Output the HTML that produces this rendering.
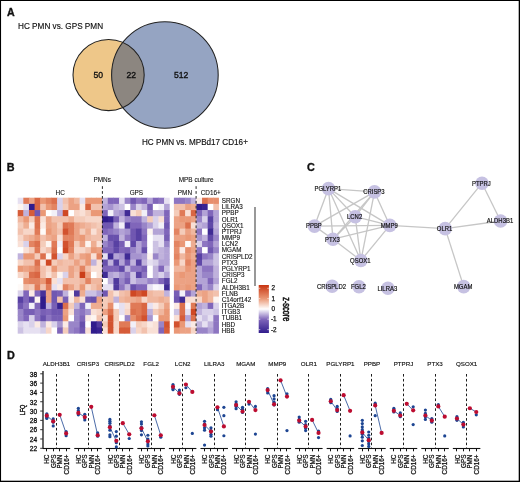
<!DOCTYPE html>
<html><head><meta charset="utf-8"><style>
html,body{margin:0;padding:0;background:#fff;}
body{width:520px;height:482px;overflow:hidden;position:relative;}
.bd{position:absolute;left:0;top:0;filter:none;}
svg{display:block;font-family:'Liberation Sans', sans-serif;will-change:transform;filter:blur(0.25px);}
text{stroke:#111;stroke-width:0.25px;}
</style></head><body>
<svg width="520" height="482" viewBox="0 0 520 482" fill="#111">
<text x="7" y="16.2" font-size="10.6" font-weight="bold" style="stroke-width:0.35px">A</text>
<text x="18" y="29.2" font-size="8.2" style="stroke-width:0.15px">HC PMN vs. GPS PMN</text>
<text x="142" y="144.6" font-size="8.15" style="stroke-width:0.15px">HC PMN vs. MPBd17 CD16+</text>
<defs><clipPath id="oc"><circle cx="108.6" cy="75" r="35.6"/></clipPath></defs>
<circle cx="108.6" cy="75" r="35.6" fill="#eec789"/>
<circle cx="164.9" cy="75" r="53.3" fill="#95a4c2"/>
<circle cx="164.9" cy="75" r="53.3" fill="#8c8680" clip-path="url(#oc)"/>
<circle cx="108.6" cy="75" r="35.6" fill="none" stroke="#222" stroke-width="1.05"/>
<circle cx="164.9" cy="75" r="53.3" fill="none" stroke="#222" stroke-width="1.05"/>
<text x="98.3" y="78.1" font-size="8.6" text-anchor="middle" style="stroke-width:0.35px">50</text>
<text x="131.2" y="78.1" font-size="8.6" text-anchor="middle" style="stroke-width:0.35px">22</text>
<text x="181.1" y="78.1" font-size="8.6" text-anchor="middle" style="stroke-width:0.35px">512</text>
<text x="6.8" y="171.3" font-size="10.8" font-weight="bold" style="stroke-width:0.35px">B</text>
<rect x="17.70" y="197.70" width="6.13" height="6.68" fill="#e6e0f1"/>
<rect x="23.33" y="197.70" width="6.13" height="6.68" fill="#e07a57"/>
<rect x="28.96" y="197.70" width="6.13" height="6.68" fill="#eca284"/>
<rect x="34.59" y="197.70" width="6.13" height="6.68" fill="#d96643"/>
<rect x="40.22" y="197.70" width="6.13" height="6.68" fill="#ea9876"/>
<rect x="45.85" y="197.70" width="6.13" height="6.68" fill="#e38462"/>
<rect x="51.48" y="197.70" width="6.13" height="6.68" fill="#dc704d"/>
<rect x="57.11" y="197.70" width="6.13" height="6.68" fill="#d9d1ea"/>
<rect x="62.74" y="197.70" width="6.13" height="6.68" fill="#f2c1ad"/>
<rect x="68.37" y="197.70" width="6.13" height="6.68" fill="#eca284"/>
<rect x="74.00" y="197.70" width="6.13" height="6.68" fill="#f0b79f"/>
<rect x="79.63" y="197.70" width="6.13" height="6.68" fill="#e6e0f1"/>
<rect x="85.26" y="197.70" width="6.13" height="6.68" fill="#ea9876"/>
<rect x="90.89" y="197.70" width="6.13" height="6.68" fill="#ea9876"/>
<rect x="96.52" y="197.70" width="5.63" height="6.68" fill="#ea9876"/>
<rect x="17.70" y="203.88" width="6.13" height="6.68" fill="#fdf5f1"/>
<rect x="23.33" y="203.88" width="6.13" height="6.68" fill="#e6e0f1"/>
<rect x="28.96" y="203.88" width="6.13" height="6.68" fill="#301c8c"/>
<rect x="34.59" y="203.88" width="6.13" height="6.68" fill="#d96643"/>
<rect x="40.22" y="203.88" width="6.13" height="6.68" fill="#f2c1ad"/>
<rect x="45.85" y="203.88" width="6.13" height="6.68" fill="#ea9876"/>
<rect x="51.48" y="203.88" width="6.13" height="6.68" fill="#e38462"/>
<rect x="57.11" y="203.88" width="6.13" height="6.68" fill="#d9d1ea"/>
<rect x="62.74" y="203.88" width="6.13" height="6.68" fill="#f4ccba"/>
<rect x="68.37" y="203.88" width="6.13" height="6.68" fill="#eca284"/>
<rect x="74.00" y="203.88" width="6.13" height="6.68" fill="#eca284"/>
<rect x="79.63" y="203.88" width="6.13" height="6.68" fill="#fbeae4"/>
<rect x="85.26" y="203.88" width="6.13" height="6.68" fill="#d96643"/>
<rect x="90.89" y="203.88" width="6.13" height="6.68" fill="#f2c1ad"/>
<rect x="96.52" y="203.88" width="5.63" height="6.68" fill="#f2c1ad"/>
<rect x="17.70" y="210.06" width="6.13" height="6.68" fill="#d65c39"/>
<rect x="23.33" y="210.06" width="6.13" height="6.68" fill="#c0b2dc"/>
<rect x="28.96" y="210.06" width="6.13" height="6.68" fill="#d65c39"/>
<rect x="34.59" y="210.06" width="6.13" height="6.68" fill="#7057b1"/>
<rect x="40.22" y="210.06" width="6.13" height="6.68" fill="#ea9876"/>
<rect x="45.85" y="210.06" width="6.13" height="6.68" fill="#ffffff"/>
<rect x="51.48" y="210.06" width="6.13" height="6.68" fill="#f2f0f8"/>
<rect x="57.11" y="210.06" width="6.13" height="6.68" fill="#c0b2dc"/>
<rect x="62.74" y="210.06" width="6.13" height="6.68" fill="#cf4824"/>
<rect x="68.37" y="210.06" width="6.13" height="6.68" fill="#ffffff"/>
<rect x="74.00" y="210.06" width="6.13" height="6.68" fill="#f7d6c8"/>
<rect x="79.63" y="210.06" width="6.13" height="6.68" fill="#f9e0d6"/>
<rect x="85.26" y="210.06" width="6.13" height="6.68" fill="#f4ccba"/>
<rect x="90.89" y="210.06" width="6.13" height="6.68" fill="#ea9876"/>
<rect x="96.52" y="210.06" width="5.63" height="6.68" fill="#ea9876"/>
<rect x="17.70" y="216.24" width="6.13" height="6.68" fill="#f0b79f"/>
<rect x="23.33" y="216.24" width="6.13" height="6.68" fill="#ea9876"/>
<rect x="28.96" y="216.24" width="6.13" height="6.68" fill="#f4ccba"/>
<rect x="34.59" y="216.24" width="6.13" height="6.68" fill="#dc704d"/>
<rect x="40.22" y="216.24" width="6.13" height="6.68" fill="#f9e0d6"/>
<rect x="45.85" y="216.24" width="6.13" height="6.68" fill="#eca284"/>
<rect x="51.48" y="216.24" width="6.13" height="6.68" fill="#f2c1ad"/>
<rect x="57.11" y="216.24" width="6.13" height="6.68" fill="#f2c1ad"/>
<rect x="62.74" y="216.24" width="6.13" height="6.68" fill="#f2c1ad"/>
<rect x="68.37" y="216.24" width="6.13" height="6.68" fill="#eead91"/>
<rect x="74.00" y="216.24" width="6.13" height="6.68" fill="#f4ccba"/>
<rect x="79.63" y="216.24" width="6.13" height="6.68" fill="#f4ccba"/>
<rect x="85.26" y="216.24" width="6.13" height="6.68" fill="#f7d6c8"/>
<rect x="90.89" y="216.24" width="6.13" height="6.68" fill="#f7d6c8"/>
<rect x="96.52" y="216.24" width="5.63" height="6.68" fill="#f7d6c8"/>
<rect x="17.70" y="222.42" width="6.13" height="6.68" fill="#f4ccba"/>
<rect x="23.33" y="222.42" width="6.13" height="6.68" fill="#eead91"/>
<rect x="28.96" y="222.42" width="6.13" height="6.68" fill="#fbeae4"/>
<rect x="34.59" y="222.42" width="6.13" height="6.68" fill="#dc704d"/>
<rect x="40.22" y="222.42" width="6.13" height="6.68" fill="#fbeae4"/>
<rect x="45.85" y="222.42" width="6.13" height="6.68" fill="#eca284"/>
<rect x="51.48" y="222.42" width="6.13" height="6.68" fill="#eead91"/>
<rect x="57.11" y="222.42" width="6.13" height="6.68" fill="#f4ccba"/>
<rect x="62.74" y="222.42" width="6.13" height="6.68" fill="#dc704d"/>
<rect x="68.37" y="222.42" width="6.13" height="6.68" fill="#e07a57"/>
<rect x="74.00" y="222.42" width="6.13" height="6.68" fill="#eca284"/>
<rect x="79.63" y="222.42" width="6.13" height="6.68" fill="#eead91"/>
<rect x="85.26" y="222.42" width="6.13" height="6.68" fill="#f0b79f"/>
<rect x="90.89" y="222.42" width="6.13" height="6.68" fill="#f2c1ad"/>
<rect x="96.52" y="222.42" width="5.63" height="6.68" fill="#f4ccba"/>
<rect x="17.70" y="228.60" width="6.13" height="6.68" fill="#f2c1ad"/>
<rect x="23.33" y="228.60" width="6.13" height="6.68" fill="#f7d6c8"/>
<rect x="28.96" y="228.60" width="6.13" height="6.68" fill="#f7d6c8"/>
<rect x="34.59" y="228.60" width="6.13" height="6.68" fill="#e07a57"/>
<rect x="40.22" y="228.60" width="6.13" height="6.68" fill="#fefaf8"/>
<rect x="45.85" y="228.60" width="6.13" height="6.68" fill="#ea9876"/>
<rect x="51.48" y="228.60" width="6.13" height="6.68" fill="#eead91"/>
<rect x="57.11" y="228.60" width="6.13" height="6.68" fill="#f2c1ad"/>
<rect x="62.74" y="228.60" width="6.13" height="6.68" fill="#d2522f"/>
<rect x="68.37" y="228.60" width="6.13" height="6.68" fill="#e07a57"/>
<rect x="74.00" y="228.60" width="6.13" height="6.68" fill="#eca284"/>
<rect x="79.63" y="228.60" width="6.13" height="6.68" fill="#f4ccba"/>
<rect x="85.26" y="228.60" width="6.13" height="6.68" fill="#eead91"/>
<rect x="90.89" y="228.60" width="6.13" height="6.68" fill="#f9e0d6"/>
<rect x="96.52" y="228.60" width="5.63" height="6.68" fill="#f2c1ad"/>
<rect x="17.70" y="234.78" width="6.13" height="6.68" fill="#f7d6c8"/>
<rect x="23.33" y="234.78" width="6.13" height="6.68" fill="#f0b79f"/>
<rect x="28.96" y="234.78" width="6.13" height="6.68" fill="#eead91"/>
<rect x="34.59" y="234.78" width="6.13" height="6.68" fill="#ea9876"/>
<rect x="40.22" y="234.78" width="6.13" height="6.68" fill="#f2c1ad"/>
<rect x="45.85" y="234.78" width="6.13" height="6.68" fill="#eead91"/>
<rect x="51.48" y="234.78" width="6.13" height="6.68" fill="#eca284"/>
<rect x="57.11" y="234.78" width="6.13" height="6.68" fill="#f9e0d6"/>
<rect x="62.74" y="234.78" width="6.13" height="6.68" fill="#e38462"/>
<rect x="68.37" y="234.78" width="6.13" height="6.68" fill="#e38462"/>
<rect x="74.00" y="234.78" width="6.13" height="6.68" fill="#eca284"/>
<rect x="79.63" y="234.78" width="6.13" height="6.68" fill="#ea9876"/>
<rect x="85.26" y="234.78" width="6.13" height="6.68" fill="#f0b79f"/>
<rect x="90.89" y="234.78" width="6.13" height="6.68" fill="#f2c1ad"/>
<rect x="96.52" y="234.78" width="5.63" height="6.68" fill="#f2c1ad"/>
<rect x="17.70" y="240.96" width="6.13" height="6.68" fill="#f9e0d6"/>
<rect x="23.33" y="240.96" width="6.13" height="6.68" fill="#d9d1ea"/>
<rect x="28.96" y="240.96" width="6.13" height="6.68" fill="#e38462"/>
<rect x="34.59" y="240.96" width="6.13" height="6.68" fill="#dc704d"/>
<rect x="40.22" y="240.96" width="6.13" height="6.68" fill="#f4ccba"/>
<rect x="45.85" y="240.96" width="6.13" height="6.68" fill="#fdf5f1"/>
<rect x="51.48" y="240.96" width="6.13" height="6.68" fill="#e07a57"/>
<rect x="57.11" y="240.96" width="6.13" height="6.68" fill="#f2f0f8"/>
<rect x="62.74" y="240.96" width="6.13" height="6.68" fill="#d2522f"/>
<rect x="68.37" y="240.96" width="6.13" height="6.68" fill="#e07a57"/>
<rect x="74.00" y="240.96" width="6.13" height="6.68" fill="#f4ccba"/>
<rect x="79.63" y="240.96" width="6.13" height="6.68" fill="#eca284"/>
<rect x="85.26" y="240.96" width="6.13" height="6.68" fill="#fdf5f1"/>
<rect x="90.89" y="240.96" width="6.13" height="6.68" fill="#eead91"/>
<rect x="96.52" y="240.96" width="5.63" height="6.68" fill="#f9e0d6"/>
<rect x="17.70" y="247.14" width="6.13" height="6.68" fill="#ffffff"/>
<rect x="23.33" y="247.14" width="6.13" height="6.68" fill="#f9e0d6"/>
<rect x="28.96" y="247.14" width="6.13" height="6.68" fill="#f4ccba"/>
<rect x="34.59" y="247.14" width="6.13" height="6.68" fill="#e07a57"/>
<rect x="40.22" y="247.14" width="6.13" height="6.68" fill="#f7d6c8"/>
<rect x="45.85" y="247.14" width="6.13" height="6.68" fill="#f2c1ad"/>
<rect x="51.48" y="247.14" width="6.13" height="6.68" fill="#dc704d"/>
<rect x="57.11" y="247.14" width="6.13" height="6.68" fill="#ffffff"/>
<rect x="62.74" y="247.14" width="6.13" height="6.68" fill="#cf4824"/>
<rect x="68.37" y="247.14" width="6.13" height="6.68" fill="#e38462"/>
<rect x="74.00" y="247.14" width="6.13" height="6.68" fill="#f7d6c8"/>
<rect x="79.63" y="247.14" width="6.13" height="6.68" fill="#f7d6c8"/>
<rect x="85.26" y="247.14" width="6.13" height="6.68" fill="#f2c1ad"/>
<rect x="90.89" y="247.14" width="6.13" height="6.68" fill="#ea9876"/>
<rect x="96.52" y="247.14" width="5.63" height="6.68" fill="#eca284"/>
<rect x="17.70" y="253.32" width="6.13" height="6.68" fill="#c0b2dc"/>
<rect x="23.33" y="253.32" width="6.13" height="6.68" fill="#ea9876"/>
<rect x="28.96" y="253.32" width="6.13" height="6.68" fill="#ea9876"/>
<rect x="34.59" y="253.32" width="6.13" height="6.68" fill="#f4ccba"/>
<rect x="40.22" y="253.32" width="6.13" height="6.68" fill="#dc704d"/>
<rect x="45.85" y="253.32" width="6.13" height="6.68" fill="#fdf5f1"/>
<rect x="51.48" y="253.32" width="6.13" height="6.68" fill="#d2522f"/>
<rect x="57.11" y="253.32" width="6.13" height="6.68" fill="#d9d1ea"/>
<rect x="62.74" y="253.32" width="6.13" height="6.68" fill="#f7d6c8"/>
<rect x="68.37" y="253.32" width="6.13" height="6.68" fill="#eca284"/>
<rect x="74.00" y="253.32" width="6.13" height="6.68" fill="#f2c1ad"/>
<rect x="79.63" y="253.32" width="6.13" height="6.68" fill="#eca284"/>
<rect x="85.26" y="253.32" width="6.13" height="6.68" fill="#ea9876"/>
<rect x="90.89" y="253.32" width="6.13" height="6.68" fill="#f9e0d6"/>
<rect x="96.52" y="253.32" width="5.63" height="6.68" fill="#e38462"/>
<rect x="17.70" y="259.50" width="6.13" height="6.68" fill="#f7d6c8"/>
<rect x="23.33" y="259.50" width="6.13" height="6.68" fill="#f2c1ad"/>
<rect x="28.96" y="259.50" width="6.13" height="6.68" fill="#f2c1ad"/>
<rect x="34.59" y="259.50" width="6.13" height="6.68" fill="#dc704d"/>
<rect x="40.22" y="259.50" width="6.13" height="6.68" fill="#f9e0d6"/>
<rect x="45.85" y="259.50" width="6.13" height="6.68" fill="#cf4824"/>
<rect x="51.48" y="259.50" width="6.13" height="6.68" fill="#f4ccba"/>
<rect x="57.11" y="259.50" width="6.13" height="6.68" fill="#f0b79f"/>
<rect x="62.74" y="259.50" width="6.13" height="6.68" fill="#f2c1ad"/>
<rect x="68.37" y="259.50" width="6.13" height="6.68" fill="#f2c1ad"/>
<rect x="74.00" y="259.50" width="6.13" height="6.68" fill="#eca284"/>
<rect x="79.63" y="259.50" width="6.13" height="6.68" fill="#f2c1ad"/>
<rect x="85.26" y="259.50" width="6.13" height="6.68" fill="#ea9876"/>
<rect x="90.89" y="259.50" width="6.13" height="6.68" fill="#c0b2dc"/>
<rect x="96.52" y="259.50" width="5.63" height="6.68" fill="#f9e0d6"/>
<rect x="17.70" y="265.68" width="6.13" height="6.68" fill="#ea9876"/>
<rect x="23.33" y="265.68" width="6.13" height="6.68" fill="#eca284"/>
<rect x="28.96" y="265.68" width="6.13" height="6.68" fill="#ea9876"/>
<rect x="34.59" y="265.68" width="6.13" height="6.68" fill="#e38462"/>
<rect x="40.22" y="265.68" width="6.13" height="6.68" fill="#f2c1ad"/>
<rect x="45.85" y="265.68" width="6.13" height="6.68" fill="#f7d6c8"/>
<rect x="51.48" y="265.68" width="6.13" height="6.68" fill="#ea9876"/>
<rect x="57.11" y="265.68" width="6.13" height="6.68" fill="#f2c1ad"/>
<rect x="62.74" y="265.68" width="6.13" height="6.68" fill="#f2c1ad"/>
<rect x="68.37" y="265.68" width="6.13" height="6.68" fill="#eca284"/>
<rect x="74.00" y="265.68" width="6.13" height="6.68" fill="#f0b79f"/>
<rect x="79.63" y="265.68" width="6.13" height="6.68" fill="#e38462"/>
<rect x="85.26" y="265.68" width="6.13" height="6.68" fill="#f2c1ad"/>
<rect x="90.89" y="265.68" width="6.13" height="6.68" fill="#f9e0d6"/>
<rect x="96.52" y="265.68" width="5.63" height="6.68" fill="#f9e0d6"/>
<rect x="17.70" y="271.86" width="6.13" height="6.68" fill="#f7d6c8"/>
<rect x="23.33" y="271.86" width="6.13" height="6.68" fill="#f2c1ad"/>
<rect x="28.96" y="271.86" width="6.13" height="6.68" fill="#dc704d"/>
<rect x="34.59" y="271.86" width="6.13" height="6.68" fill="#d96643"/>
<rect x="40.22" y="271.86" width="6.13" height="6.68" fill="#f2c1ad"/>
<rect x="45.85" y="271.86" width="6.13" height="6.68" fill="#f9e0d6"/>
<rect x="51.48" y="271.86" width="6.13" height="6.68" fill="#f2c1ad"/>
<rect x="57.11" y="271.86" width="6.13" height="6.68" fill="#fdf5f1"/>
<rect x="62.74" y="271.86" width="6.13" height="6.68" fill="#d9d1ea"/>
<rect x="68.37" y="271.86" width="6.13" height="6.68" fill="#eca284"/>
<rect x="74.00" y="271.86" width="6.13" height="6.68" fill="#f2c1ad"/>
<rect x="79.63" y="271.86" width="6.13" height="6.68" fill="#cb3e1a"/>
<rect x="85.26" y="271.86" width="6.13" height="6.68" fill="#eca284"/>
<rect x="90.89" y="271.86" width="6.13" height="6.68" fill="#ffffff"/>
<rect x="96.52" y="271.86" width="5.63" height="6.68" fill="#f9e0d6"/>
<rect x="17.70" y="278.04" width="6.13" height="6.68" fill="#ffffff"/>
<rect x="23.33" y="278.04" width="6.13" height="6.68" fill="#e78e6c"/>
<rect x="28.96" y="278.04" width="6.13" height="6.68" fill="#e38462"/>
<rect x="34.59" y="278.04" width="6.13" height="6.68" fill="#e38462"/>
<rect x="40.22" y="278.04" width="6.13" height="6.68" fill="#ea9876"/>
<rect x="45.85" y="278.04" width="6.13" height="6.68" fill="#d65c39"/>
<rect x="51.48" y="278.04" width="6.13" height="6.68" fill="#f9e0d6"/>
<rect x="57.11" y="278.04" width="6.13" height="6.68" fill="#e6e0f1"/>
<rect x="62.74" y="278.04" width="6.13" height="6.68" fill="#f2c1ad"/>
<rect x="68.37" y="278.04" width="6.13" height="6.68" fill="#f2c1ad"/>
<rect x="74.00" y="278.04" width="6.13" height="6.68" fill="#f2c1ad"/>
<rect x="79.63" y="278.04" width="6.13" height="6.68" fill="#f0b79f"/>
<rect x="85.26" y="278.04" width="6.13" height="6.68" fill="#e38462"/>
<rect x="90.89" y="278.04" width="6.13" height="6.68" fill="#f0b79f"/>
<rect x="96.52" y="278.04" width="5.63" height="6.68" fill="#f0b79f"/>
<rect x="17.70" y="284.22" width="6.13" height="6.68" fill="#fefaf8"/>
<rect x="23.33" y="284.22" width="6.13" height="6.68" fill="#f2c1ad"/>
<rect x="28.96" y="284.22" width="6.13" height="6.68" fill="#f4ccba"/>
<rect x="34.59" y="284.22" width="6.13" height="6.68" fill="#e07a57"/>
<rect x="40.22" y="284.22" width="6.13" height="6.68" fill="#f2c1ad"/>
<rect x="45.85" y="284.22" width="6.13" height="6.68" fill="#e07a57"/>
<rect x="51.48" y="284.22" width="6.13" height="6.68" fill="#e6e0f1"/>
<rect x="57.11" y="284.22" width="6.13" height="6.68" fill="#fbeae4"/>
<rect x="62.74" y="284.22" width="6.13" height="6.68" fill="#e38462"/>
<rect x="68.37" y="284.22" width="6.13" height="6.68" fill="#eca284"/>
<rect x="74.00" y="284.22" width="6.13" height="6.68" fill="#f2c1ad"/>
<rect x="79.63" y="284.22" width="6.13" height="6.68" fill="#ea9876"/>
<rect x="85.26" y="284.22" width="6.13" height="6.68" fill="#f7d6c8"/>
<rect x="90.89" y="284.22" width="6.13" height="6.68" fill="#f2c1ad"/>
<rect x="96.52" y="284.22" width="5.63" height="6.68" fill="#eead91"/>
<rect x="17.70" y="290.40" width="6.13" height="6.68" fill="#d9d1ea"/>
<rect x="23.33" y="290.40" width="6.13" height="6.68" fill="#8066ba"/>
<rect x="28.96" y="290.40" width="6.13" height="6.68" fill="#fbeae4"/>
<rect x="34.59" y="290.40" width="6.13" height="6.68" fill="#8066ba"/>
<rect x="40.22" y="290.40" width="6.13" height="6.68" fill="#48329a"/>
<rect x="45.85" y="290.40" width="6.13" height="6.68" fill="#eca284"/>
<rect x="51.48" y="290.40" width="6.13" height="6.68" fill="#7057b1"/>
<rect x="57.11" y="290.40" width="6.13" height="6.68" fill="#785fb5"/>
<rect x="62.74" y="290.40" width="6.13" height="6.68" fill="#c0b2dc"/>
<rect x="68.37" y="290.40" width="6.13" height="6.68" fill="#fdf5f1"/>
<rect x="74.00" y="290.40" width="6.13" height="6.68" fill="#503a9e"/>
<rect x="79.63" y="290.40" width="6.13" height="6.68" fill="#eead91"/>
<rect x="85.26" y="290.40" width="6.13" height="6.68" fill="#ccc2e3"/>
<rect x="90.89" y="290.40" width="6.13" height="6.68" fill="#ccc2e3"/>
<rect x="96.52" y="290.40" width="5.63" height="6.68" fill="#b3a3d6"/>
<rect x="17.70" y="296.58" width="6.13" height="6.68" fill="#5841a3"/>
<rect x="23.33" y="296.58" width="6.13" height="6.68" fill="#8066ba"/>
<rect x="28.96" y="296.58" width="6.13" height="6.68" fill="#5841a3"/>
<rect x="34.59" y="296.58" width="6.13" height="6.68" fill="#fdf5f1"/>
<rect x="40.22" y="296.58" width="6.13" height="6.68" fill="#301c8c"/>
<rect x="45.85" y="296.58" width="6.13" height="6.68" fill="#eca284"/>
<rect x="51.48" y="296.58" width="6.13" height="6.68" fill="#7057b1"/>
<rect x="57.11" y="296.58" width="6.13" height="6.68" fill="#f2c1ad"/>
<rect x="62.74" y="296.58" width="6.13" height="6.68" fill="#785fb5"/>
<rect x="68.37" y="296.58" width="6.13" height="6.68" fill="#fbeae4"/>
<rect x="74.00" y="296.58" width="6.13" height="6.68" fill="#f0b79f"/>
<rect x="79.63" y="296.58" width="6.13" height="6.68" fill="#f9e0d6"/>
<rect x="85.26" y="296.58" width="6.13" height="6.68" fill="#7057b1"/>
<rect x="90.89" y="296.58" width="6.13" height="6.68" fill="#6850ac"/>
<rect x="96.52" y="296.58" width="5.63" height="6.68" fill="#eca284"/>
<rect x="17.70" y="302.76" width="6.13" height="6.68" fill="#7057b1"/>
<rect x="23.33" y="302.76" width="6.13" height="6.68" fill="#8d75c1"/>
<rect x="28.96" y="302.76" width="6.13" height="6.68" fill="#f2f0f8"/>
<rect x="34.59" y="302.76" width="6.13" height="6.68" fill="#8066ba"/>
<rect x="40.22" y="302.76" width="6.13" height="6.68" fill="#301c8c"/>
<rect x="45.85" y="302.76" width="6.13" height="6.68" fill="#c0b2dc"/>
<rect x="51.48" y="302.76" width="6.13" height="6.68" fill="#785fb5"/>
<rect x="57.11" y="302.76" width="6.13" height="6.68" fill="#382391"/>
<rect x="62.74" y="302.76" width="6.13" height="6.68" fill="#dc704d"/>
<rect x="68.37" y="302.76" width="6.13" height="6.68" fill="#f4ccba"/>
<rect x="74.00" y="302.76" width="6.13" height="6.68" fill="#c0b2dc"/>
<rect x="79.63" y="302.76" width="6.13" height="6.68" fill="#8066ba"/>
<rect x="85.26" y="302.76" width="6.13" height="6.68" fill="#f2f0f8"/>
<rect x="90.89" y="302.76" width="6.13" height="6.68" fill="#eead91"/>
<rect x="96.52" y="302.76" width="5.63" height="6.68" fill="#eead91"/>
<rect x="17.70" y="308.94" width="6.13" height="6.68" fill="#9985c8"/>
<rect x="23.33" y="308.94" width="6.13" height="6.68" fill="#785fb5"/>
<rect x="28.96" y="308.94" width="6.13" height="6.68" fill="#785fb5"/>
<rect x="34.59" y="308.94" width="6.13" height="6.68" fill="#8d75c1"/>
<rect x="40.22" y="308.94" width="6.13" height="6.68" fill="#785fb5"/>
<rect x="45.85" y="308.94" width="6.13" height="6.68" fill="#8066ba"/>
<rect x="51.48" y="308.94" width="6.13" height="6.68" fill="#7057b1"/>
<rect x="57.11" y="308.94" width="6.13" height="6.68" fill="#7057b1"/>
<rect x="62.74" y="308.94" width="6.13" height="6.68" fill="#eca284"/>
<rect x="68.37" y="308.94" width="6.13" height="6.68" fill="#f9e0d6"/>
<rect x="74.00" y="308.94" width="6.13" height="6.68" fill="#9985c8"/>
<rect x="79.63" y="308.94" width="6.13" height="6.68" fill="#8d75c1"/>
<rect x="85.26" y="308.94" width="6.13" height="6.68" fill="#a694cf"/>
<rect x="90.89" y="308.94" width="6.13" height="6.68" fill="#f9e0d6"/>
<rect x="96.52" y="308.94" width="5.63" height="6.68" fill="#f7d6c8"/>
<rect x="17.70" y="315.12" width="6.13" height="6.68" fill="#9985c8"/>
<rect x="23.33" y="315.12" width="6.13" height="6.68" fill="#8066ba"/>
<rect x="28.96" y="315.12" width="6.13" height="6.68" fill="#d9d1ea"/>
<rect x="34.59" y="315.12" width="6.13" height="6.68" fill="#8d75c1"/>
<rect x="40.22" y="315.12" width="6.13" height="6.68" fill="#6850ac"/>
<rect x="45.85" y="315.12" width="6.13" height="6.68" fill="#8d75c1"/>
<rect x="51.48" y="315.12" width="6.13" height="6.68" fill="#785fb5"/>
<rect x="57.11" y="315.12" width="6.13" height="6.68" fill="#785fb5"/>
<rect x="62.74" y="315.12" width="6.13" height="6.68" fill="#ea9876"/>
<rect x="68.37" y="315.12" width="6.13" height="6.68" fill="#ffffff"/>
<rect x="74.00" y="315.12" width="6.13" height="6.68" fill="#9985c8"/>
<rect x="79.63" y="315.12" width="6.13" height="6.68" fill="#8066ba"/>
<rect x="85.26" y="315.12" width="6.13" height="6.68" fill="#fbeae4"/>
<rect x="90.89" y="315.12" width="6.13" height="6.68" fill="#fdf5f1"/>
<rect x="96.52" y="315.12" width="5.63" height="6.68" fill="#f2c1ad"/>
<rect x="17.70" y="321.30" width="6.13" height="6.68" fill="#d9d1ea"/>
<rect x="23.33" y="321.30" width="6.13" height="6.68" fill="#e6e0f1"/>
<rect x="28.96" y="321.30" width="6.13" height="6.68" fill="#d9d1ea"/>
<rect x="34.59" y="321.30" width="6.13" height="6.68" fill="#fbeae4"/>
<rect x="40.22" y="321.30" width="6.13" height="6.68" fill="#c0b2dc"/>
<rect x="45.85" y="321.30" width="6.13" height="6.68" fill="#fbeae4"/>
<rect x="51.48" y="321.30" width="6.13" height="6.68" fill="#d9d1ea"/>
<rect x="57.11" y="321.30" width="6.13" height="6.68" fill="#a694cf"/>
<rect x="62.74" y="321.30" width="6.13" height="6.68" fill="#fbeae4"/>
<rect x="68.37" y="321.30" width="6.13" height="6.68" fill="#9985c8"/>
<rect x="74.00" y="321.30" width="6.13" height="6.68" fill="#9985c8"/>
<rect x="79.63" y="321.30" width="6.13" height="6.68" fill="#6850ac"/>
<rect x="85.26" y="321.30" width="6.13" height="6.68" fill="#ffffff"/>
<rect x="90.89" y="321.30" width="6.13" height="6.68" fill="#301c8c"/>
<rect x="96.52" y="321.30" width="5.63" height="6.68" fill="#503a9e"/>
<rect x="17.70" y="327.48" width="6.13" height="6.18" fill="#ccc2e3"/>
<rect x="23.33" y="327.48" width="6.13" height="6.18" fill="#e6e0f1"/>
<rect x="28.96" y="327.48" width="6.13" height="6.18" fill="#e6e0f1"/>
<rect x="34.59" y="327.48" width="6.13" height="6.18" fill="#e6e0f1"/>
<rect x="40.22" y="327.48" width="6.13" height="6.18" fill="#d9d1ea"/>
<rect x="45.85" y="327.48" width="6.13" height="6.18" fill="#f7d6c8"/>
<rect x="51.48" y="327.48" width="6.13" height="6.18" fill="#ffffff"/>
<rect x="57.11" y="327.48" width="6.13" height="6.18" fill="#8066ba"/>
<rect x="62.74" y="327.48" width="6.13" height="6.18" fill="#f4ccba"/>
<rect x="68.37" y="327.48" width="6.13" height="6.18" fill="#9985c8"/>
<rect x="74.00" y="327.48" width="6.13" height="6.18" fill="#8d75c1"/>
<rect x="79.63" y="327.48" width="6.13" height="6.18" fill="#7057b1"/>
<rect x="85.26" y="327.48" width="6.13" height="6.18" fill="#f9e0d6"/>
<rect x="90.89" y="327.48" width="6.13" height="6.18" fill="#301c8c"/>
<rect x="96.52" y="327.48" width="5.63" height="6.18" fill="#382391"/>
<rect x="102.15" y="197.70" width="6.13" height="6.68" fill="#c0b2dc"/>
<rect x="107.78" y="197.70" width="6.13" height="6.68" fill="#8066ba"/>
<rect x="113.41" y="197.70" width="6.13" height="6.68" fill="#8066ba"/>
<rect x="119.04" y="197.70" width="6.13" height="6.68" fill="#e6e0f1"/>
<rect x="124.67" y="197.70" width="6.13" height="6.68" fill="#9985c8"/>
<rect x="130.30" y="197.70" width="6.13" height="6.68" fill="#7057b1"/>
<rect x="135.93" y="197.70" width="6.13" height="6.68" fill="#8d75c1"/>
<rect x="141.56" y="197.70" width="6.13" height="6.68" fill="#8066ba"/>
<rect x="147.19" y="197.70" width="6.13" height="6.68" fill="#b3a3d6"/>
<rect x="152.82" y="197.70" width="6.13" height="6.68" fill="#8066ba"/>
<rect x="158.45" y="197.70" width="6.13" height="6.68" fill="#8d75c1"/>
<rect x="164.08" y="197.70" width="5.63" height="6.68" fill="#e6e0f1"/>
<rect x="102.15" y="203.88" width="6.13" height="6.68" fill="#b3a3d6"/>
<rect x="107.78" y="203.88" width="6.13" height="6.68" fill="#a694cf"/>
<rect x="113.41" y="203.88" width="6.13" height="6.68" fill="#c0b2dc"/>
<rect x="119.04" y="203.88" width="6.13" height="6.68" fill="#ccc2e3"/>
<rect x="124.67" y="203.88" width="6.13" height="6.68" fill="#ffffff"/>
<rect x="130.30" y="203.88" width="6.13" height="6.68" fill="#9985c8"/>
<rect x="135.93" y="203.88" width="6.13" height="6.68" fill="#d9d1ea"/>
<rect x="141.56" y="203.88" width="6.13" height="6.68" fill="#c0b2dc"/>
<rect x="147.19" y="203.88" width="6.13" height="6.68" fill="#785fb5"/>
<rect x="152.82" y="203.88" width="6.13" height="6.68" fill="#ffffff"/>
<rect x="158.45" y="203.88" width="6.13" height="6.68" fill="#f2f0f8"/>
<rect x="164.08" y="203.88" width="5.63" height="6.68" fill="#b3a3d6"/>
<rect x="102.15" y="210.06" width="6.13" height="6.68" fill="#8066ba"/>
<rect x="107.78" y="210.06" width="6.13" height="6.68" fill="#f2f0f8"/>
<rect x="113.41" y="210.06" width="6.13" height="6.68" fill="#b3a3d6"/>
<rect x="119.04" y="210.06" width="6.13" height="6.68" fill="#a694cf"/>
<rect x="124.67" y="210.06" width="6.13" height="6.68" fill="#402b95"/>
<rect x="130.30" y="210.06" width="6.13" height="6.68" fill="#f9e0d6"/>
<rect x="135.93" y="210.06" width="6.13" height="6.68" fill="#f4ccba"/>
<rect x="141.56" y="210.06" width="6.13" height="6.68" fill="#f2f0f8"/>
<rect x="147.19" y="210.06" width="6.13" height="6.68" fill="#8d75c1"/>
<rect x="152.82" y="210.06" width="6.13" height="6.68" fill="#c0b2dc"/>
<rect x="158.45" y="210.06" width="6.13" height="6.68" fill="#c0b2dc"/>
<rect x="164.08" y="210.06" width="5.63" height="6.68" fill="#8066ba"/>
<rect x="102.15" y="216.24" width="6.13" height="6.68" fill="#301c8c"/>
<rect x="107.78" y="216.24" width="6.13" height="6.68" fill="#382391"/>
<rect x="113.41" y="216.24" width="6.13" height="6.68" fill="#785fb5"/>
<rect x="119.04" y="216.24" width="6.13" height="6.68" fill="#c0b2dc"/>
<rect x="124.67" y="216.24" width="6.13" height="6.68" fill="#9985c8"/>
<rect x="130.30" y="216.24" width="6.13" height="6.68" fill="#8d75c1"/>
<rect x="135.93" y="216.24" width="6.13" height="6.68" fill="#8d75c1"/>
<rect x="141.56" y="216.24" width="6.13" height="6.68" fill="#c0b2dc"/>
<rect x="147.19" y="216.24" width="6.13" height="6.68" fill="#f4ccba"/>
<rect x="152.82" y="216.24" width="6.13" height="6.68" fill="#d9d1ea"/>
<rect x="158.45" y="216.24" width="6.13" height="6.68" fill="#f9e0d6"/>
<rect x="164.08" y="216.24" width="5.63" height="6.68" fill="#8066ba"/>
<rect x="102.15" y="222.42" width="6.13" height="6.68" fill="#7057b1"/>
<rect x="107.78" y="222.42" width="6.13" height="6.68" fill="#7057b1"/>
<rect x="113.41" y="222.42" width="6.13" height="6.68" fill="#c0b2dc"/>
<rect x="119.04" y="222.42" width="6.13" height="6.68" fill="#f2f0f8"/>
<rect x="124.67" y="222.42" width="6.13" height="6.68" fill="#503a9e"/>
<rect x="130.30" y="222.42" width="6.13" height="6.68" fill="#8066ba"/>
<rect x="135.93" y="222.42" width="6.13" height="6.68" fill="#8066ba"/>
<rect x="141.56" y="222.42" width="6.13" height="6.68" fill="#9985c8"/>
<rect x="147.19" y="222.42" width="6.13" height="6.68" fill="#b3a3d6"/>
<rect x="152.82" y="222.42" width="6.13" height="6.68" fill="#d9d1ea"/>
<rect x="158.45" y="222.42" width="6.13" height="6.68" fill="#f2f0f8"/>
<rect x="164.08" y="222.42" width="5.63" height="6.68" fill="#7057b1"/>
<rect x="102.15" y="228.60" width="6.13" height="6.68" fill="#8066ba"/>
<rect x="107.78" y="228.60" width="6.13" height="6.68" fill="#8d75c1"/>
<rect x="113.41" y="228.60" width="6.13" height="6.68" fill="#9985c8"/>
<rect x="119.04" y="228.60" width="6.13" height="6.68" fill="#b3a3d6"/>
<rect x="124.67" y="228.60" width="6.13" height="6.68" fill="#a694cf"/>
<rect x="130.30" y="228.60" width="6.13" height="6.68" fill="#7057b1"/>
<rect x="135.93" y="228.60" width="6.13" height="6.68" fill="#5841a3"/>
<rect x="141.56" y="228.60" width="6.13" height="6.68" fill="#8d75c1"/>
<rect x="147.19" y="228.60" width="6.13" height="6.68" fill="#fdf5f1"/>
<rect x="152.82" y="228.60" width="6.13" height="6.68" fill="#b3a3d6"/>
<rect x="158.45" y="228.60" width="6.13" height="6.68" fill="#b3a3d6"/>
<rect x="164.08" y="228.60" width="5.63" height="6.68" fill="#8066ba"/>
<rect x="102.15" y="234.78" width="6.13" height="6.68" fill="#c0b2dc"/>
<rect x="107.78" y="234.78" width="6.13" height="6.68" fill="#6850ac"/>
<rect x="113.41" y="234.78" width="6.13" height="6.68" fill="#6850ac"/>
<rect x="119.04" y="234.78" width="6.13" height="6.68" fill="#c0b2dc"/>
<rect x="124.67" y="234.78" width="6.13" height="6.68" fill="#8d75c1"/>
<rect x="130.30" y="234.78" width="6.13" height="6.68" fill="#7057b1"/>
<rect x="135.93" y="234.78" width="6.13" height="6.68" fill="#5841a3"/>
<rect x="141.56" y="234.78" width="6.13" height="6.68" fill="#8066ba"/>
<rect x="147.19" y="234.78" width="6.13" height="6.68" fill="#ffffff"/>
<rect x="152.82" y="234.78" width="6.13" height="6.68" fill="#e6e0f1"/>
<rect x="158.45" y="234.78" width="6.13" height="6.68" fill="#e6e0f1"/>
<rect x="164.08" y="234.78" width="5.63" height="6.68" fill="#785fb5"/>
<rect x="102.15" y="240.96" width="6.13" height="6.68" fill="#9985c8"/>
<rect x="107.78" y="240.96" width="6.13" height="6.68" fill="#8066ba"/>
<rect x="113.41" y="240.96" width="6.13" height="6.68" fill="#5841a3"/>
<rect x="119.04" y="240.96" width="6.13" height="6.68" fill="#785fb5"/>
<rect x="124.67" y="240.96" width="6.13" height="6.68" fill="#f2f0f8"/>
<rect x="130.30" y="240.96" width="6.13" height="6.68" fill="#6048a8"/>
<rect x="135.93" y="240.96" width="6.13" height="6.68" fill="#b3a3d6"/>
<rect x="141.56" y="240.96" width="6.13" height="6.68" fill="#8d75c1"/>
<rect x="147.19" y="240.96" width="6.13" height="6.68" fill="#ffffff"/>
<rect x="152.82" y="240.96" width="6.13" height="6.68" fill="#ccc2e3"/>
<rect x="158.45" y="240.96" width="6.13" height="6.68" fill="#e6e0f1"/>
<rect x="164.08" y="240.96" width="5.63" height="6.68" fill="#9985c8"/>
<rect x="102.15" y="247.14" width="6.13" height="6.68" fill="#8066ba"/>
<rect x="107.78" y="247.14" width="6.13" height="6.68" fill="#8066ba"/>
<rect x="113.41" y="247.14" width="6.13" height="6.68" fill="#6048a8"/>
<rect x="119.04" y="247.14" width="6.13" height="6.68" fill="#8066ba"/>
<rect x="124.67" y="247.14" width="6.13" height="6.68" fill="#785fb5"/>
<rect x="130.30" y="247.14" width="6.13" height="6.68" fill="#9985c8"/>
<rect x="135.93" y="247.14" width="6.13" height="6.68" fill="#b3a3d6"/>
<rect x="141.56" y="247.14" width="6.13" height="6.68" fill="#6850ac"/>
<rect x="147.19" y="247.14" width="6.13" height="6.68" fill="#ffffff"/>
<rect x="152.82" y="247.14" width="6.13" height="6.68" fill="#ccc2e3"/>
<rect x="158.45" y="247.14" width="6.13" height="6.68" fill="#c0b2dc"/>
<rect x="164.08" y="247.14" width="5.63" height="6.68" fill="#b3a3d6"/>
<rect x="102.15" y="253.32" width="6.13" height="6.68" fill="#e6e0f1"/>
<rect x="107.78" y="253.32" width="6.13" height="6.68" fill="#402b95"/>
<rect x="113.41" y="253.32" width="6.13" height="6.68" fill="#b3a3d6"/>
<rect x="119.04" y="253.32" width="6.13" height="6.68" fill="#a694cf"/>
<rect x="124.67" y="253.32" width="6.13" height="6.68" fill="#402b95"/>
<rect x="130.30" y="253.32" width="6.13" height="6.68" fill="#a694cf"/>
<rect x="135.93" y="253.32" width="6.13" height="6.68" fill="#a694cf"/>
<rect x="141.56" y="253.32" width="6.13" height="6.68" fill="#b3a3d6"/>
<rect x="147.19" y="253.32" width="6.13" height="6.68" fill="#fdf5f1"/>
<rect x="152.82" y="253.32" width="6.13" height="6.68" fill="#9985c8"/>
<rect x="158.45" y="253.32" width="6.13" height="6.68" fill="#c0b2dc"/>
<rect x="164.08" y="253.32" width="5.63" height="6.68" fill="#b3a3d6"/>
<rect x="102.15" y="259.50" width="6.13" height="6.68" fill="#6850ac"/>
<rect x="107.78" y="259.50" width="6.13" height="6.68" fill="#c0b2dc"/>
<rect x="113.41" y="259.50" width="6.13" height="6.68" fill="#5841a3"/>
<rect x="119.04" y="259.50" width="6.13" height="6.68" fill="#b3a3d6"/>
<rect x="124.67" y="259.50" width="6.13" height="6.68" fill="#7057b1"/>
<rect x="130.30" y="259.50" width="6.13" height="6.68" fill="#c0b2dc"/>
<rect x="135.93" y="259.50" width="6.13" height="6.68" fill="#5841a3"/>
<rect x="141.56" y="259.50" width="6.13" height="6.68" fill="#c0b2dc"/>
<rect x="147.19" y="259.50" width="6.13" height="6.68" fill="#e6e0f1"/>
<rect x="152.82" y="259.50" width="6.13" height="6.68" fill="#d9d1ea"/>
<rect x="158.45" y="259.50" width="6.13" height="6.68" fill="#b3a3d6"/>
<rect x="164.08" y="259.50" width="5.63" height="6.68" fill="#b3a3d6"/>
<rect x="102.15" y="265.68" width="6.13" height="6.68" fill="#8066ba"/>
<rect x="107.78" y="265.68" width="6.13" height="6.68" fill="#8066ba"/>
<rect x="113.41" y="265.68" width="6.13" height="6.68" fill="#8066ba"/>
<rect x="119.04" y="265.68" width="6.13" height="6.68" fill="#6048a8"/>
<rect x="124.67" y="265.68" width="6.13" height="6.68" fill="#c0b2dc"/>
<rect x="130.30" y="265.68" width="6.13" height="6.68" fill="#8d75c1"/>
<rect x="135.93" y="265.68" width="6.13" height="6.68" fill="#8d75c1"/>
<rect x="141.56" y="265.68" width="6.13" height="6.68" fill="#785fb5"/>
<rect x="147.19" y="265.68" width="6.13" height="6.68" fill="#ffffff"/>
<rect x="152.82" y="265.68" width="6.13" height="6.68" fill="#c0b2dc"/>
<rect x="158.45" y="265.68" width="6.13" height="6.68" fill="#8066ba"/>
<rect x="164.08" y="265.68" width="5.63" height="6.68" fill="#ccc2e3"/>
<rect x="102.15" y="271.86" width="6.13" height="6.68" fill="#402b95"/>
<rect x="107.78" y="271.86" width="6.13" height="6.68" fill="#b3a3d6"/>
<rect x="113.41" y="271.86" width="6.13" height="6.68" fill="#c0b2dc"/>
<rect x="119.04" y="271.86" width="6.13" height="6.68" fill="#a694cf"/>
<rect x="124.67" y="271.86" width="6.13" height="6.68" fill="#8d75c1"/>
<rect x="130.30" y="271.86" width="6.13" height="6.68" fill="#ccc2e3"/>
<rect x="135.93" y="271.86" width="6.13" height="6.68" fill="#5841a3"/>
<rect x="141.56" y="271.86" width="6.13" height="6.68" fill="#8d75c1"/>
<rect x="147.19" y="271.86" width="6.13" height="6.68" fill="#ffffff"/>
<rect x="152.82" y="271.86" width="6.13" height="6.68" fill="#c0b2dc"/>
<rect x="158.45" y="271.86" width="6.13" height="6.68" fill="#d9d1ea"/>
<rect x="164.08" y="271.86" width="5.63" height="6.68" fill="#b3a3d6"/>
<rect x="102.15" y="278.04" width="6.13" height="6.68" fill="#ffffff"/>
<rect x="107.78" y="278.04" width="6.13" height="6.68" fill="#c0b2dc"/>
<rect x="113.41" y="278.04" width="6.13" height="6.68" fill="#503a9e"/>
<rect x="119.04" y="278.04" width="6.13" height="6.68" fill="#9985c8"/>
<rect x="124.67" y="278.04" width="6.13" height="6.68" fill="#785fb5"/>
<rect x="130.30" y="278.04" width="6.13" height="6.68" fill="#ccc2e3"/>
<rect x="135.93" y="278.04" width="6.13" height="6.68" fill="#b3a3d6"/>
<rect x="141.56" y="278.04" width="6.13" height="6.68" fill="#b3a3d6"/>
<rect x="147.19" y="278.04" width="6.13" height="6.68" fill="#9985c8"/>
<rect x="152.82" y="278.04" width="6.13" height="6.68" fill="#a694cf"/>
<rect x="158.45" y="278.04" width="6.13" height="6.68" fill="#8066ba"/>
<rect x="164.08" y="278.04" width="5.63" height="6.68" fill="#5841a3"/>
<rect x="102.15" y="284.22" width="6.13" height="6.68" fill="#e6e0f1"/>
<rect x="107.78" y="284.22" width="6.13" height="6.68" fill="#e6e0f1"/>
<rect x="113.41" y="284.22" width="6.13" height="6.68" fill="#503a9e"/>
<rect x="119.04" y="284.22" width="6.13" height="6.68" fill="#8d75c1"/>
<rect x="124.67" y="284.22" width="6.13" height="6.68" fill="#c0b2dc"/>
<rect x="130.30" y="284.22" width="6.13" height="6.68" fill="#6850ac"/>
<rect x="135.93" y="284.22" width="6.13" height="6.68" fill="#8066ba"/>
<rect x="141.56" y="284.22" width="6.13" height="6.68" fill="#8066ba"/>
<rect x="147.19" y="284.22" width="6.13" height="6.68" fill="#e6e0f1"/>
<rect x="152.82" y="284.22" width="6.13" height="6.68" fill="#f9f7fc"/>
<rect x="158.45" y="284.22" width="6.13" height="6.68" fill="#f2f0f8"/>
<rect x="164.08" y="284.22" width="5.63" height="6.68" fill="#402b95"/>
<rect x="102.15" y="290.40" width="6.13" height="6.68" fill="#7057b1"/>
<rect x="107.78" y="290.40" width="6.13" height="6.68" fill="#f2c1ad"/>
<rect x="113.41" y="290.40" width="6.13" height="6.68" fill="#f9e0d6"/>
<rect x="119.04" y="290.40" width="6.13" height="6.68" fill="#f2c1ad"/>
<rect x="124.67" y="290.40" width="6.13" height="6.68" fill="#f0b79f"/>
<rect x="130.30" y="290.40" width="6.13" height="6.68" fill="#cf4824"/>
<rect x="135.93" y="290.40" width="6.13" height="6.68" fill="#d65c39"/>
<rect x="141.56" y="290.40" width="6.13" height="6.68" fill="#cf4824"/>
<rect x="147.19" y="290.40" width="6.13" height="6.68" fill="#f0b79f"/>
<rect x="152.82" y="290.40" width="6.13" height="6.68" fill="#f2c1ad"/>
<rect x="158.45" y="290.40" width="6.13" height="6.68" fill="#f2c1ad"/>
<rect x="164.08" y="290.40" width="5.63" height="6.68" fill="#c0b2dc"/>
<rect x="102.15" y="296.58" width="6.13" height="6.68" fill="#f4ccba"/>
<rect x="107.78" y="296.58" width="6.13" height="6.68" fill="#f2c1ad"/>
<rect x="113.41" y="296.58" width="6.13" height="6.68" fill="#c0b2dc"/>
<rect x="119.04" y="296.58" width="6.13" height="6.68" fill="#f0b79f"/>
<rect x="124.67" y="296.58" width="6.13" height="6.68" fill="#eead91"/>
<rect x="130.30" y="296.58" width="6.13" height="6.68" fill="#eead91"/>
<rect x="135.93" y="296.58" width="6.13" height="6.68" fill="#eca284"/>
<rect x="141.56" y="296.58" width="6.13" height="6.68" fill="#f7d6c8"/>
<rect x="147.19" y="296.58" width="6.13" height="6.68" fill="#f0b79f"/>
<rect x="152.82" y="296.58" width="6.13" height="6.68" fill="#f0b79f"/>
<rect x="158.45" y="296.58" width="6.13" height="6.68" fill="#eead91"/>
<rect x="164.08" y="296.58" width="5.63" height="6.68" fill="#f0b79f"/>
<rect x="102.15" y="302.76" width="6.13" height="6.68" fill="#f4ccba"/>
<rect x="107.78" y="302.76" width="6.13" height="6.68" fill="#e78e6c"/>
<rect x="113.41" y="302.76" width="6.13" height="6.68" fill="#f9f7fc"/>
<rect x="119.04" y="302.76" width="6.13" height="6.68" fill="#e6e0f1"/>
<rect x="124.67" y="302.76" width="6.13" height="6.68" fill="#f9e0d6"/>
<rect x="130.30" y="302.76" width="6.13" height="6.68" fill="#e07a57"/>
<rect x="135.93" y="302.76" width="6.13" height="6.68" fill="#e07a57"/>
<rect x="141.56" y="302.76" width="6.13" height="6.68" fill="#d96643"/>
<rect x="147.19" y="302.76" width="6.13" height="6.68" fill="#e6e0f1"/>
<rect x="152.82" y="302.76" width="6.13" height="6.68" fill="#fbeae4"/>
<rect x="158.45" y="302.76" width="6.13" height="6.68" fill="#f4ccba"/>
<rect x="164.08" y="302.76" width="5.63" height="6.68" fill="#eca284"/>
<rect x="102.15" y="308.94" width="6.13" height="6.68" fill="#eca284"/>
<rect x="107.78" y="308.94" width="6.13" height="6.68" fill="#dc704d"/>
<rect x="113.41" y="308.94" width="6.13" height="6.68" fill="#f4ccba"/>
<rect x="119.04" y="308.94" width="6.13" height="6.68" fill="#e6e0f1"/>
<rect x="124.67" y="308.94" width="6.13" height="6.68" fill="#f7d6c8"/>
<rect x="130.30" y="308.94" width="6.13" height="6.68" fill="#dc704d"/>
<rect x="135.93" y="308.94" width="6.13" height="6.68" fill="#e07a57"/>
<rect x="141.56" y="308.94" width="6.13" height="6.68" fill="#d96643"/>
<rect x="147.19" y="308.94" width="6.13" height="6.68" fill="#c0b2dc"/>
<rect x="152.82" y="308.94" width="6.13" height="6.68" fill="#f4ccba"/>
<rect x="158.45" y="308.94" width="6.13" height="6.68" fill="#f0b79f"/>
<rect x="164.08" y="308.94" width="5.63" height="6.68" fill="#ea9876"/>
<rect x="102.15" y="315.12" width="6.13" height="6.68" fill="#f9e0d6"/>
<rect x="107.78" y="315.12" width="6.13" height="6.68" fill="#d2522f"/>
<rect x="113.41" y="315.12" width="6.13" height="6.68" fill="#f4ccba"/>
<rect x="119.04" y="315.12" width="6.13" height="6.68" fill="#ffffff"/>
<rect x="124.67" y="315.12" width="6.13" height="6.68" fill="#9985c8"/>
<rect x="130.30" y="315.12" width="6.13" height="6.68" fill="#e78e6c"/>
<rect x="135.93" y="315.12" width="6.13" height="6.68" fill="#dc704d"/>
<rect x="141.56" y="315.12" width="6.13" height="6.68" fill="#d2522f"/>
<rect x="147.19" y="315.12" width="6.13" height="6.68" fill="#a694cf"/>
<rect x="152.82" y="315.12" width="6.13" height="6.68" fill="#ffffff"/>
<rect x="158.45" y="315.12" width="6.13" height="6.68" fill="#ea9876"/>
<rect x="164.08" y="315.12" width="5.63" height="6.68" fill="#ea9876"/>
<rect x="102.15" y="321.30" width="6.13" height="6.68" fill="#f4ccba"/>
<rect x="107.78" y="321.30" width="6.13" height="6.68" fill="#d2522f"/>
<rect x="113.41" y="321.30" width="6.13" height="6.68" fill="#f7d6c8"/>
<rect x="119.04" y="321.30" width="6.13" height="6.68" fill="#e07a57"/>
<rect x="124.67" y="321.30" width="6.13" height="6.68" fill="#e07a57"/>
<rect x="130.30" y="321.30" width="6.13" height="6.68" fill="#f2f0f8"/>
<rect x="135.93" y="321.30" width="6.13" height="6.68" fill="#f4ccba"/>
<rect x="141.56" y="321.30" width="6.13" height="6.68" fill="#f7d6c8"/>
<rect x="147.19" y="321.30" width="6.13" height="6.68" fill="#fbeae4"/>
<rect x="152.82" y="321.30" width="6.13" height="6.68" fill="#f9e0d6"/>
<rect x="158.45" y="321.30" width="6.13" height="6.68" fill="#9985c8"/>
<rect x="164.08" y="321.30" width="5.63" height="6.68" fill="#d2522f"/>
<rect x="102.15" y="327.48" width="6.13" height="6.18" fill="#f9e0d6"/>
<rect x="107.78" y="327.48" width="6.13" height="6.18" fill="#d2522f"/>
<rect x="113.41" y="327.48" width="6.13" height="6.18" fill="#f7d6c8"/>
<rect x="119.04" y="327.48" width="6.13" height="6.18" fill="#d65c39"/>
<rect x="124.67" y="327.48" width="6.13" height="6.18" fill="#d65c39"/>
<rect x="130.30" y="327.48" width="6.13" height="6.18" fill="#d9d1ea"/>
<rect x="135.93" y="327.48" width="6.13" height="6.18" fill="#f7d6c8"/>
<rect x="141.56" y="327.48" width="6.13" height="6.18" fill="#f2c1ad"/>
<rect x="147.19" y="327.48" width="6.13" height="6.18" fill="#f9e0d6"/>
<rect x="152.82" y="327.48" width="6.13" height="6.18" fill="#f9e0d6"/>
<rect x="158.45" y="327.48" width="6.13" height="6.18" fill="#8066ba"/>
<rect x="164.08" y="327.48" width="5.63" height="6.18" fill="#d65c39"/>
<rect x="173.90" y="197.70" width="6.13" height="6.68" fill="#8d75c1"/>
<rect x="179.53" y="197.70" width="6.13" height="6.68" fill="#8d75c1"/>
<rect x="185.16" y="197.70" width="6.13" height="6.68" fill="#9985c8"/>
<rect x="190.79" y="197.70" width="5.63" height="6.68" fill="#c0b2dc"/>
<rect x="173.90" y="203.88" width="6.13" height="6.68" fill="#f2c1ad"/>
<rect x="179.53" y="203.88" width="6.13" height="6.68" fill="#f2c1ad"/>
<rect x="185.16" y="203.88" width="6.13" height="6.68" fill="#eca284"/>
<rect x="190.79" y="203.88" width="5.63" height="6.68" fill="#eead91"/>
<rect x="173.90" y="210.06" width="6.13" height="6.68" fill="#f4ccba"/>
<rect x="179.53" y="210.06" width="6.13" height="6.68" fill="#e07a57"/>
<rect x="185.16" y="210.06" width="6.13" height="6.68" fill="#f9e0d6"/>
<rect x="190.79" y="210.06" width="5.63" height="6.68" fill="#d96643"/>
<rect x="173.90" y="216.24" width="6.13" height="6.68" fill="#eca284"/>
<rect x="179.53" y="216.24" width="6.13" height="6.68" fill="#ea9876"/>
<rect x="185.16" y="216.24" width="6.13" height="6.68" fill="#ea9876"/>
<rect x="190.79" y="216.24" width="5.63" height="6.68" fill="#eca284"/>
<rect x="173.90" y="222.42" width="6.13" height="6.68" fill="#eca284"/>
<rect x="179.53" y="222.42" width="6.13" height="6.68" fill="#eca284"/>
<rect x="185.16" y="222.42" width="6.13" height="6.68" fill="#dc704d"/>
<rect x="190.79" y="222.42" width="5.63" height="6.68" fill="#f9e0d6"/>
<rect x="173.90" y="228.60" width="6.13" height="6.68" fill="#e38462"/>
<rect x="179.53" y="228.60" width="6.13" height="6.68" fill="#f4ccba"/>
<rect x="185.16" y="228.60" width="6.13" height="6.68" fill="#eca284"/>
<rect x="190.79" y="228.60" width="5.63" height="6.68" fill="#f0b79f"/>
<rect x="173.90" y="234.78" width="6.13" height="6.68" fill="#eca284"/>
<rect x="179.53" y="234.78" width="6.13" height="6.68" fill="#eca284"/>
<rect x="185.16" y="234.78" width="6.13" height="6.68" fill="#ea9876"/>
<rect x="190.79" y="234.78" width="5.63" height="6.68" fill="#eca284"/>
<rect x="173.90" y="240.96" width="6.13" height="6.68" fill="#e38462"/>
<rect x="179.53" y="240.96" width="6.13" height="6.68" fill="#ea9876"/>
<rect x="185.16" y="240.96" width="6.13" height="6.68" fill="#fefaf8"/>
<rect x="190.79" y="240.96" width="5.63" height="6.68" fill="#eead91"/>
<rect x="173.90" y="247.14" width="6.13" height="6.68" fill="#e78e6c"/>
<rect x="179.53" y="247.14" width="6.13" height="6.68" fill="#fbeae4"/>
<rect x="185.16" y="247.14" width="6.13" height="6.68" fill="#e78e6c"/>
<rect x="190.79" y="247.14" width="5.63" height="6.68" fill="#eca284"/>
<rect x="173.90" y="253.32" width="6.13" height="6.68" fill="#e38462"/>
<rect x="179.53" y="253.32" width="6.13" height="6.68" fill="#f0b79f"/>
<rect x="185.16" y="253.32" width="6.13" height="6.68" fill="#ea9876"/>
<rect x="190.79" y="253.32" width="5.63" height="6.68" fill="#eead91"/>
<rect x="173.90" y="259.50" width="6.13" height="6.68" fill="#ea9876"/>
<rect x="179.53" y="259.50" width="6.13" height="6.68" fill="#f7d6c8"/>
<rect x="185.16" y="259.50" width="6.13" height="6.68" fill="#e38462"/>
<rect x="190.79" y="259.50" width="5.63" height="6.68" fill="#eca284"/>
<rect x="173.90" y="265.68" width="6.13" height="6.68" fill="#f0b79f"/>
<rect x="179.53" y="265.68" width="6.13" height="6.68" fill="#f0b79f"/>
<rect x="185.16" y="265.68" width="6.13" height="6.68" fill="#ea9876"/>
<rect x="190.79" y="265.68" width="5.63" height="6.68" fill="#eca284"/>
<rect x="173.90" y="271.86" width="6.13" height="6.68" fill="#eca284"/>
<rect x="179.53" y="271.86" width="6.13" height="6.68" fill="#ea9876"/>
<rect x="185.16" y="271.86" width="6.13" height="6.68" fill="#eca284"/>
<rect x="190.79" y="271.86" width="5.63" height="6.68" fill="#eca284"/>
<rect x="173.90" y="278.04" width="6.13" height="6.68" fill="#eca284"/>
<rect x="179.53" y="278.04" width="6.13" height="6.68" fill="#eca284"/>
<rect x="185.16" y="278.04" width="6.13" height="6.68" fill="#eca284"/>
<rect x="190.79" y="278.04" width="5.63" height="6.68" fill="#eca284"/>
<rect x="173.90" y="284.22" width="6.13" height="6.68" fill="#ea9876"/>
<rect x="179.53" y="284.22" width="6.13" height="6.68" fill="#eca284"/>
<rect x="185.16" y="284.22" width="6.13" height="6.68" fill="#ea9876"/>
<rect x="190.79" y="284.22" width="5.63" height="6.68" fill="#eca284"/>
<rect x="173.90" y="290.40" width="6.13" height="6.68" fill="#785fb5"/>
<rect x="179.53" y="290.40" width="6.13" height="6.68" fill="#f2f0f8"/>
<rect x="185.16" y="290.40" width="6.13" height="6.68" fill="#8066ba"/>
<rect x="190.79" y="290.40" width="5.63" height="6.68" fill="#b3a3d6"/>
<rect x="173.90" y="296.58" width="6.13" height="6.68" fill="#7057b1"/>
<rect x="179.53" y="296.58" width="6.13" height="6.68" fill="#402b95"/>
<rect x="185.16" y="296.58" width="6.13" height="6.68" fill="#f9e0d6"/>
<rect x="190.79" y="296.58" width="5.63" height="6.68" fill="#f9e0d6"/>
<rect x="173.90" y="302.76" width="6.13" height="6.68" fill="#fbeae4"/>
<rect x="179.53" y="302.76" width="6.13" height="6.68" fill="#dc704d"/>
<rect x="185.16" y="302.76" width="6.13" height="6.68" fill="#f9f7fc"/>
<rect x="190.79" y="302.76" width="5.63" height="6.68" fill="#e07a57"/>
<rect x="173.90" y="308.94" width="6.13" height="6.68" fill="#ccc2e3"/>
<rect x="179.53" y="308.94" width="6.13" height="6.68" fill="#dc704d"/>
<rect x="185.16" y="308.94" width="6.13" height="6.68" fill="#e6e0f1"/>
<rect x="190.79" y="308.94" width="5.63" height="6.68" fill="#cf4824"/>
<rect x="173.90" y="315.12" width="6.13" height="6.68" fill="#f9e0d6"/>
<rect x="179.53" y="315.12" width="6.13" height="6.68" fill="#d65c39"/>
<rect x="185.16" y="315.12" width="6.13" height="6.68" fill="#b3a3d6"/>
<rect x="190.79" y="315.12" width="5.63" height="6.68" fill="#dc704d"/>
<rect x="173.90" y="321.30" width="6.13" height="6.68" fill="#d2522f"/>
<rect x="179.53" y="321.30" width="6.13" height="6.68" fill="#ea9876"/>
<rect x="185.16" y="321.30" width="6.13" height="6.68" fill="#e6e0f1"/>
<rect x="190.79" y="321.30" width="5.63" height="6.68" fill="#fbeae4"/>
<rect x="173.90" y="327.48" width="6.13" height="6.18" fill="#ea9876"/>
<rect x="179.53" y="327.48" width="6.13" height="6.18" fill="#eca284"/>
<rect x="185.16" y="327.48" width="6.13" height="6.18" fill="#eca284"/>
<rect x="190.79" y="327.48" width="5.63" height="6.18" fill="#f7d6c8"/>
<rect x="196.42" y="197.70" width="6.13" height="6.68" fill="#fbeae4"/>
<rect x="202.05" y="197.70" width="6.13" height="6.68" fill="#dc704d"/>
<rect x="207.68" y="197.70" width="6.13" height="6.68" fill="#e78e6c"/>
<rect x="213.31" y="197.70" width="5.63" height="6.68" fill="#e78e6c"/>
<rect x="196.42" y="203.88" width="6.13" height="6.68" fill="#301c8c"/>
<rect x="202.05" y="203.88" width="6.13" height="6.68" fill="#382391"/>
<rect x="207.68" y="203.88" width="6.13" height="6.68" fill="#ffffff"/>
<rect x="213.31" y="203.88" width="5.63" height="6.68" fill="#f2c1ad"/>
<rect x="196.42" y="210.06" width="6.13" height="6.68" fill="#8066ba"/>
<rect x="202.05" y="210.06" width="6.13" height="6.68" fill="#b3a3d6"/>
<rect x="207.68" y="210.06" width="6.13" height="6.68" fill="#8066ba"/>
<rect x="213.31" y="210.06" width="5.63" height="6.68" fill="#b3a3d6"/>
<rect x="196.42" y="216.24" width="6.13" height="6.68" fill="#9985c8"/>
<rect x="202.05" y="216.24" width="6.13" height="6.68" fill="#d9d1ea"/>
<rect x="207.68" y="216.24" width="6.13" height="6.68" fill="#5841a3"/>
<rect x="213.31" y="216.24" width="5.63" height="6.68" fill="#b3a3d6"/>
<rect x="196.42" y="222.42" width="6.13" height="6.68" fill="#c0b2dc"/>
<rect x="202.05" y="222.42" width="6.13" height="6.68" fill="#b3a3d6"/>
<rect x="207.68" y="222.42" width="6.13" height="6.68" fill="#6048a8"/>
<rect x="213.31" y="222.42" width="5.63" height="6.68" fill="#c0b2dc"/>
<rect x="196.42" y="228.60" width="6.13" height="6.68" fill="#8d75c1"/>
<rect x="202.05" y="228.60" width="6.13" height="6.68" fill="#ffffff"/>
<rect x="207.68" y="228.60" width="6.13" height="6.68" fill="#402b95"/>
<rect x="213.31" y="228.60" width="5.63" height="6.68" fill="#b3a3d6"/>
<rect x="196.42" y="234.78" width="6.13" height="6.68" fill="#a694cf"/>
<rect x="202.05" y="234.78" width="6.13" height="6.68" fill="#c0b2dc"/>
<rect x="207.68" y="234.78" width="6.13" height="6.68" fill="#6048a8"/>
<rect x="213.31" y="234.78" width="5.63" height="6.68" fill="#9985c8"/>
<rect x="196.42" y="240.96" width="6.13" height="6.68" fill="#d9d1ea"/>
<rect x="202.05" y="240.96" width="6.13" height="6.68" fill="#8d75c1"/>
<rect x="207.68" y="240.96" width="6.13" height="6.68" fill="#8066ba"/>
<rect x="213.31" y="240.96" width="5.63" height="6.68" fill="#b3a3d6"/>
<rect x="196.42" y="247.14" width="6.13" height="6.68" fill="#8d75c1"/>
<rect x="202.05" y="247.14" width="6.13" height="6.68" fill="#ffffff"/>
<rect x="207.68" y="247.14" width="6.13" height="6.68" fill="#7057b1"/>
<rect x="213.31" y="247.14" width="5.63" height="6.68" fill="#9985c8"/>
<rect x="196.42" y="253.32" width="6.13" height="6.68" fill="#5841a3"/>
<rect x="202.05" y="253.32" width="6.13" height="6.68" fill="#8d75c1"/>
<rect x="207.68" y="253.32" width="6.13" height="6.68" fill="#9985c8"/>
<rect x="213.31" y="253.32" width="5.63" height="6.68" fill="#ccc2e3"/>
<rect x="196.42" y="259.50" width="6.13" height="6.68" fill="#6048a8"/>
<rect x="202.05" y="259.50" width="6.13" height="6.68" fill="#b3a3d6"/>
<rect x="207.68" y="259.50" width="6.13" height="6.68" fill="#b3a3d6"/>
<rect x="213.31" y="259.50" width="5.63" height="6.68" fill="#ccc2e3"/>
<rect x="196.42" y="265.68" width="6.13" height="6.68" fill="#b3a3d6"/>
<rect x="202.05" y="265.68" width="6.13" height="6.68" fill="#8d75c1"/>
<rect x="207.68" y="265.68" width="6.13" height="6.68" fill="#8d75c1"/>
<rect x="213.31" y="265.68" width="5.63" height="6.68" fill="#c0b2dc"/>
<rect x="196.42" y="271.86" width="6.13" height="6.68" fill="#b3a3d6"/>
<rect x="202.05" y="271.86" width="6.13" height="6.68" fill="#9985c8"/>
<rect x="207.68" y="271.86" width="6.13" height="6.68" fill="#9985c8"/>
<rect x="213.31" y="271.86" width="5.63" height="6.68" fill="#c0b2dc"/>
<rect x="196.42" y="278.04" width="6.13" height="6.68" fill="#b3a3d6"/>
<rect x="202.05" y="278.04" width="6.13" height="6.68" fill="#b3a3d6"/>
<rect x="207.68" y="278.04" width="6.13" height="6.68" fill="#8066ba"/>
<rect x="213.31" y="278.04" width="5.63" height="6.68" fill="#b3a3d6"/>
<rect x="196.42" y="284.22" width="6.13" height="6.68" fill="#8066ba"/>
<rect x="202.05" y="284.22" width="6.13" height="6.68" fill="#b3a3d6"/>
<rect x="207.68" y="284.22" width="6.13" height="6.68" fill="#9985c8"/>
<rect x="213.31" y="284.22" width="5.63" height="6.68" fill="#d9d1ea"/>
<rect x="196.42" y="290.40" width="6.13" height="6.68" fill="#eead91"/>
<rect x="202.05" y="290.40" width="6.13" height="6.68" fill="#eca284"/>
<rect x="207.68" y="290.40" width="6.13" height="6.68" fill="#f0b79f"/>
<rect x="213.31" y="290.40" width="5.63" height="6.68" fill="#f2c1ad"/>
<rect x="196.42" y="296.58" width="6.13" height="6.68" fill="#f7d6c8"/>
<rect x="202.05" y="296.58" width="6.13" height="6.68" fill="#eca284"/>
<rect x="207.68" y="296.58" width="6.13" height="6.68" fill="#f0b79f"/>
<rect x="213.31" y="296.58" width="5.63" height="6.68" fill="#fdf5f1"/>
<rect x="196.42" y="302.76" width="6.13" height="6.68" fill="#b3a3d6"/>
<rect x="202.05" y="302.76" width="6.13" height="6.68" fill="#c0b2dc"/>
<rect x="207.68" y="302.76" width="6.13" height="6.68" fill="#8066ba"/>
<rect x="213.31" y="302.76" width="5.63" height="6.68" fill="#d9d1ea"/>
<rect x="196.42" y="308.94" width="6.13" height="6.68" fill="#c0b2dc"/>
<rect x="202.05" y="308.94" width="6.13" height="6.68" fill="#d9d1ea"/>
<rect x="207.68" y="308.94" width="6.13" height="6.68" fill="#d9d1ea"/>
<rect x="213.31" y="308.94" width="5.63" height="6.68" fill="#ccc2e3"/>
<rect x="196.42" y="315.12" width="6.13" height="6.68" fill="#e6e0f1"/>
<rect x="202.05" y="315.12" width="6.13" height="6.68" fill="#ccc2e3"/>
<rect x="207.68" y="315.12" width="6.13" height="6.68" fill="#e6e0f1"/>
<rect x="213.31" y="315.12" width="5.63" height="6.68" fill="#8d75c1"/>
<rect x="196.42" y="321.30" width="6.13" height="6.68" fill="#c0b2dc"/>
<rect x="202.05" y="321.30" width="6.13" height="6.68" fill="#e6e0f1"/>
<rect x="207.68" y="321.30" width="6.13" height="6.68" fill="#c0b2dc"/>
<rect x="213.31" y="321.30" width="5.63" height="6.68" fill="#8d75c1"/>
<rect x="196.42" y="327.48" width="6.13" height="6.18" fill="#9985c8"/>
<rect x="202.05" y="327.48" width="6.13" height="6.18" fill="#9985c8"/>
<rect x="207.68" y="327.48" width="6.13" height="6.18" fill="#b3a3d6"/>
<rect x="213.31" y="327.48" width="5.63" height="6.18" fill="#8d75c1"/>
<line x1="102.4" y1="186.2" x2="102.4" y2="333.9" stroke="#111" stroke-width="0.9" stroke-dasharray="2.7 2.2"/>
<line x1="196.1" y1="186.2" x2="196.1" y2="333.9" stroke="#111" stroke-width="0.9" stroke-dasharray="2.7 2.2"/>
<text x="102.2" y="182" font-size="6.4" text-anchor="middle" style="stroke-width:0.1px">PMNs</text>
<text x="60.2" y="195" font-size="6.4" text-anchor="middle" style="stroke-width:0.1px">HC</text>
<text x="136.4" y="195" font-size="6.4" text-anchor="middle" style="stroke-width:0.1px">GPS</text>
<text x="196.2" y="182" font-size="6.4" text-anchor="middle" style="stroke-width:0.1px">MPB culture</text>
<text x="184.9" y="195" font-size="6.4" text-anchor="middle" style="stroke-width:0.1px">PMN</text>
<text x="210.8" y="195" font-size="6.4" text-anchor="middle" style="stroke-width:0.1px">CD16+</text>
<text x="221.8" y="202.99" font-size="6.3" style="stroke-width:0.12px">SRGN</text>
<text x="221.8" y="209.17" font-size="6.3" style="stroke-width:0.12px">LILRA3</text>
<text x="221.8" y="215.35" font-size="6.3" style="stroke-width:0.12px">PPBP</text>
<text x="221.8" y="221.53" font-size="6.3" style="stroke-width:0.12px">OLR1</text>
<text x="221.8" y="227.71" font-size="6.3" style="stroke-width:0.12px">QSOX1</text>
<text x="221.8" y="233.89" font-size="6.3" style="stroke-width:0.12px">PTPRJ</text>
<text x="221.8" y="240.07" font-size="6.3" style="stroke-width:0.12px">MMP9</text>
<text x="221.8" y="246.25" font-size="6.3" style="stroke-width:0.12px">LCN2</text>
<text x="221.8" y="252.43" font-size="6.3" style="stroke-width:0.12px">MGAM</text>
<text x="221.8" y="258.61" font-size="6.3" style="stroke-width:0.12px">CRISPLD2</text>
<text x="221.8" y="264.79" font-size="6.3" style="stroke-width:0.12px">PTX3</text>
<text x="221.8" y="270.97" font-size="6.3" style="stroke-width:0.12px">PGLYRP1</text>
<text x="221.8" y="277.15" font-size="6.3" style="stroke-width:0.12px">CRISP3</text>
<text x="221.8" y="283.33" font-size="6.3" style="stroke-width:0.12px">FGL2</text>
<text x="221.8" y="289.51" font-size="6.3" style="stroke-width:0.12px">ALDH3B1</text>
<text x="221.8" y="295.69" font-size="6.3" style="stroke-width:0.12px">FLNB</text>
<text x="221.8" y="301.87" font-size="6.3" style="stroke-width:0.12px">C14orf142</text>
<text x="221.8" y="308.05" font-size="6.3" style="stroke-width:0.12px">ITGA2B</text>
<text x="221.8" y="314.23" font-size="6.3" style="stroke-width:0.12px">ITGB3</text>
<text x="221.8" y="320.41" font-size="6.3" style="stroke-width:0.12px">TUBB1</text>
<text x="221.8" y="326.59" font-size="6.3" style="stroke-width:0.12px">HBD</text>
<text x="221.8" y="332.77" font-size="6.3" style="stroke-width:0.12px">HBB</text>
<line x1="255.0" y1="207.0" x2="255.0" y2="286" stroke="#444" stroke-width="1.1"/>
<defs><linearGradient id="cb" x1="0" y1="0" x2="0" y2="1"><stop offset="0" stop-color="#c83410"/><stop offset="0.285" stop-color="#ea9876"/><stop offset="0.5" stop-color="#ffffff"/><stop offset="0.715" stop-color="#8066ba"/><stop offset="1" stop-color="#301c8c"/></linearGradient></defs>
<rect x="258.7" y="285" width="10.2" height="48" fill="url(#cb)"/>
<line x1="258.7" y1="288.3" x2="260.3" y2="288.3" stroke="#fff" stroke-width="0.6"/>
<line x1="267.3" y1="288.3" x2="268.9" y2="288.3" stroke="#fff" stroke-width="0.6"/>
<text x="271.4" y="290.3" font-size="6.3">2</text>
<line x1="258.7" y1="298.6" x2="260.3" y2="298.6" stroke="#fff" stroke-width="0.6"/>
<line x1="267.3" y1="298.6" x2="268.9" y2="298.6" stroke="#fff" stroke-width="0.6"/>
<text x="271.4" y="300.6" font-size="6.3">1</text>
<text x="271.4" y="311.0" font-size="6.3">0</text>
<line x1="258.7" y1="319.2" x2="260.3" y2="319.2" stroke="#fff" stroke-width="0.6"/>
<line x1="267.3" y1="319.2" x2="268.9" y2="319.2" stroke="#fff" stroke-width="0.6"/>
<text x="271.0" y="321.2" font-size="6.3">-1</text>
<line x1="258.7" y1="329.6" x2="260.3" y2="329.6" stroke="#fff" stroke-width="0.6"/>
<line x1="267.3" y1="329.6" x2="268.9" y2="329.6" stroke="#fff" stroke-width="0.6"/>
<text x="271.0" y="331.6" font-size="6.3">-2</text>
<text transform="translate(282.9,309.3) rotate(90) scale(1,1.35)" font-size="7.4" text-anchor="middle" style="stroke-width:0.4px">z-score</text>
<text x="307.1" y="171.3" font-size="10.8" font-weight="bold" style="stroke-width:0.35px">C</text>
<line x1="328.5" y1="188.6" x2="374.5" y2="191.9" stroke="#c6c6c6" stroke-width="1.3"/>
<line x1="328.5" y1="188.6" x2="355.2" y2="216.7" stroke="#c6c6c6" stroke-width="1.3"/>
<line x1="328.5" y1="188.6" x2="314.5" y2="226.1" stroke="#c6c6c6" stroke-width="1.3"/>
<line x1="328.5" y1="188.6" x2="389.8" y2="225.4" stroke="#c6c6c6" stroke-width="1.3"/>
<line x1="328.5" y1="188.6" x2="333.0" y2="239.2" stroke="#c6c6c6" stroke-width="1.3"/>
<line x1="328.5" y1="188.6" x2="360.9" y2="260.5" stroke="#c6c6c6" stroke-width="1.3"/>
<line x1="374.5" y1="191.9" x2="355.2" y2="216.7" stroke="#c6c6c6" stroke-width="1.3"/>
<line x1="374.5" y1="191.9" x2="314.5" y2="226.1" stroke="#c6c6c6" stroke-width="1.3"/>
<line x1="374.5" y1="191.9" x2="389.8" y2="225.4" stroke="#c6c6c6" stroke-width="1.3"/>
<line x1="374.5" y1="191.9" x2="333.0" y2="239.2" stroke="#c6c6c6" stroke-width="1.3"/>
<line x1="374.5" y1="191.9" x2="360.9" y2="260.5" stroke="#c6c6c6" stroke-width="1.3"/>
<line x1="355.2" y1="216.7" x2="389.8" y2="225.4" stroke="#c6c6c6" stroke-width="1.3"/>
<line x1="355.2" y1="216.7" x2="333.0" y2="239.2" stroke="#c6c6c6" stroke-width="1.3"/>
<line x1="355.2" y1="216.7" x2="360.9" y2="260.5" stroke="#c6c6c6" stroke-width="1.3"/>
<line x1="314.5" y1="226.1" x2="389.8" y2="225.4" stroke="#c6c6c6" stroke-width="1.3"/>
<line x1="314.5" y1="226.1" x2="333.0" y2="239.2" stroke="#c6c6c6" stroke-width="1.3"/>
<line x1="389.8" y1="225.4" x2="333.0" y2="239.2" stroke="#c6c6c6" stroke-width="1.3"/>
<line x1="389.8" y1="225.4" x2="360.9" y2="260.5" stroke="#c6c6c6" stroke-width="1.3"/>
<line x1="333.0" y1="239.2" x2="360.9" y2="260.5" stroke="#c6c6c6" stroke-width="1.3"/>
<line x1="389.8" y1="225.4" x2="445.2" y2="228.6" stroke="#c6c6c6" stroke-width="1.3"/>
<line x1="445.2" y1="228.6" x2="482.0" y2="183.2" stroke="#c6c6c6" stroke-width="1.3"/>
<line x1="445.2" y1="228.6" x2="500.6" y2="221.0" stroke="#c6c6c6" stroke-width="1.3"/>
<line x1="482.0" y1="183.2" x2="500.6" y2="221.0" stroke="#c6c6c6" stroke-width="1.3"/>
<line x1="445.2" y1="228.6" x2="463.7" y2="286.6" stroke="#c6c6c6" stroke-width="1.3"/>
<circle cx="328.5" cy="188.6" r="6.8" fill="#c6c1e2"/>
<circle cx="374.5" cy="191.9" r="6.8" fill="#c6c1e2"/>
<circle cx="355.2" cy="216.7" r="6.8" fill="#c6c1e2"/>
<circle cx="314.5" cy="226.1" r="6.8" fill="#c6c1e2"/>
<circle cx="389.8" cy="225.4" r="6.8" fill="#c6c1e2"/>
<circle cx="333.0" cy="239.2" r="6.8" fill="#c6c1e2"/>
<circle cx="360.9" cy="260.5" r="6.8" fill="#c6c1e2"/>
<circle cx="445.2" cy="228.6" r="6.8" fill="#c6c1e2"/>
<circle cx="482.0" cy="183.2" r="6.8" fill="#c6c1e2"/>
<circle cx="500.6" cy="221.0" r="6.8" fill="#c6c1e2"/>
<circle cx="463.7" cy="286.6" r="6.8" fill="#c6c1e2"/>
<circle cx="332.1" cy="286.3" r="6.8" fill="#c6c1e2"/>
<circle cx="359.0" cy="286.7" r="6.8" fill="#c6c1e2"/>
<circle cx="387.9" cy="288.3" r="6.8" fill="#c6c1e2"/>
<text transform="translate(327.90,190.90) scale(0.92,1)" font-size="6.45" text-anchor="middle" style="stroke-width:0.18px">PGLYRP1</text>
<text transform="translate(373.90,194.20) scale(0.92,1)" font-size="6.45" text-anchor="middle" style="stroke-width:0.18px">CRISP3</text>
<text transform="translate(354.60,219.00) scale(0.92,1)" font-size="6.45" text-anchor="middle" style="stroke-width:0.18px">LCN2</text>
<text transform="translate(313.90,228.40) scale(0.92,1)" font-size="6.45" text-anchor="middle" style="stroke-width:0.18px">PPBP</text>
<text transform="translate(389.20,227.70) scale(0.92,1)" font-size="6.45" text-anchor="middle" style="stroke-width:0.18px">MMP9</text>
<text transform="translate(332.40,241.50) scale(0.92,1)" font-size="6.45" text-anchor="middle" style="stroke-width:0.18px">PTX3</text>
<text transform="translate(360.30,262.80) scale(0.92,1)" font-size="6.45" text-anchor="middle" style="stroke-width:0.18px">QSOX1</text>
<text transform="translate(444.60,230.90) scale(0.92,1)" font-size="6.45" text-anchor="middle" style="stroke-width:0.18px">OLR1</text>
<text transform="translate(481.40,185.50) scale(0.92,1)" font-size="6.45" text-anchor="middle" style="stroke-width:0.18px">PTPRJ</text>
<text transform="translate(500.00,223.30) scale(0.92,1)" font-size="6.45" text-anchor="middle" style="stroke-width:0.18px">ALDH3B1</text>
<text transform="translate(463.10,288.90) scale(0.92,1)" font-size="6.45" text-anchor="middle" style="stroke-width:0.18px">MGAM</text>
<text transform="translate(331.50,288.60) scale(0.92,1)" font-size="6.45" text-anchor="middle" style="stroke-width:0.18px">CRISPLD2</text>
<text transform="translate(358.40,289.00) scale(0.92,1)" font-size="6.45" text-anchor="middle" style="stroke-width:0.18px">FGL2</text>
<text transform="translate(387.30,290.60) scale(0.92,1)" font-size="6.45" text-anchor="middle" style="stroke-width:0.18px">LILRA3</text>
<text x="6.9" y="358.5" font-size="10.8" font-weight="bold" style="stroke-width:0.35px">D</text>
<line x1="43.0" y1="371.0" x2="43.0" y2="448.8" stroke="#333" stroke-width="1.5"/>
<line x1="40.2" y1="448.30" x2="42.9" y2="448.30" stroke="#222" stroke-width="0.9"/>
<text x="37.1" y="451.10" font-size="6.6" text-anchor="end" style="stroke-width:0.3px">22</text>
<line x1="40.2" y1="438.99" x2="42.9" y2="438.99" stroke="#222" stroke-width="0.9"/>
<text x="37.1" y="441.79" font-size="6.6" text-anchor="end" style="stroke-width:0.3px">24</text>
<line x1="40.2" y1="429.68" x2="42.9" y2="429.68" stroke="#222" stroke-width="0.9"/>
<text x="37.1" y="432.48" font-size="6.6" text-anchor="end" style="stroke-width:0.3px">26</text>
<line x1="40.2" y1="420.36" x2="42.9" y2="420.36" stroke="#222" stroke-width="0.9"/>
<text x="37.1" y="423.16" font-size="6.6" text-anchor="end" style="stroke-width:0.3px">28</text>
<line x1="40.2" y1="411.05" x2="42.9" y2="411.05" stroke="#222" stroke-width="0.9"/>
<text x="37.1" y="413.85" font-size="6.6" text-anchor="end" style="stroke-width:0.3px">30</text>
<line x1="40.2" y1="401.74" x2="42.9" y2="401.74" stroke="#222" stroke-width="0.9"/>
<text x="37.1" y="404.54" font-size="6.6" text-anchor="end" style="stroke-width:0.3px">32</text>
<line x1="40.2" y1="392.43" x2="42.9" y2="392.43" stroke="#222" stroke-width="0.9"/>
<text x="37.1" y="395.23" font-size="6.6" text-anchor="end" style="stroke-width:0.3px">34</text>
<line x1="40.2" y1="383.12" x2="42.9" y2="383.12" stroke="#222" stroke-width="0.9"/>
<text x="37.1" y="385.92" font-size="6.6" text-anchor="end" style="stroke-width:0.3px">36</text>
<line x1="40.2" y1="373.80" x2="42.9" y2="373.80" stroke="#222" stroke-width="0.9"/>
<text x="37.1" y="376.60" font-size="6.6" text-anchor="end" style="stroke-width:0.3px">38</text>
<text transform="translate(24.6,410.0) rotate(-90) scale(0.74,1)" font-size="7.4" text-anchor="middle" style="stroke-width:0.4px">LFQ</text>
<text x="56.46" y="366.4" font-size="6.2" text-anchor="middle" style="stroke-width:0.15px">ALDH3B1</text>
<line x1="56.50" y1="374" x2="56.50" y2="448.30" stroke="#111" stroke-width="0.95" stroke-dasharray="2.6 2.3"/>
<line x1="42.90" y1="448.5" x2="70.20" y2="448.5" stroke="#111" stroke-width="1.1"/>
<line x1="46.50" y1="448.30" x2="46.50" y2="451.30" stroke="#111" stroke-width="1"/>
<text transform="translate(49.40,454.6) rotate(-90)" font-size="6.3" text-anchor="end">HC</text>
<line x1="53.50" y1="448.30" x2="53.50" y2="451.30" stroke="#111" stroke-width="1"/>
<text transform="translate(55.83,454.6) rotate(-90)" font-size="6.3" text-anchor="end">GPS</text>
<line x1="59.50" y1="448.30" x2="59.50" y2="451.30" stroke="#111" stroke-width="1"/>
<text transform="translate(62.30,454.6) rotate(-90)" font-size="6.3" text-anchor="end">PMN</text>
<line x1="66.50" y1="448.30" x2="66.50" y2="451.30" stroke="#111" stroke-width="1"/>
<text transform="translate(68.73,454.6) rotate(-90)" font-size="6.3" text-anchor="end">CD16+</text>
<line x1="46.80" y1="415.71" x2="53.23" y2="421.30" stroke="#1d4592" stroke-width="0.8"/>
<line x1="59.70" y1="414.78" x2="66.13" y2="433.40" stroke="#1d4592" stroke-width="0.8"/>
<circle cx="46.80" cy="413.85" r="1.6" fill="#1d4592"/>
<circle cx="46.80" cy="415.71" r="1.6" fill="#1d4592"/>
<circle cx="46.80" cy="417.57" r="1.6" fill="#1d4592"/>
<circle cx="46.80" cy="418.50" r="1.6" fill="#1d4592"/>
<circle cx="53.23" cy="418.97" r="1.6" fill="#1d4592"/>
<circle cx="53.23" cy="422.23" r="1.6" fill="#1d4592"/>
<circle cx="53.23" cy="425.95" r="1.6" fill="#1d4592"/>
<circle cx="66.13" cy="431.54" r="1.6" fill="#1d4592"/>
<circle cx="66.13" cy="435.73" r="1.6" fill="#1d4592"/>
<circle cx="46.80" cy="415.71" r="2.1" fill="#bc0c30"/>
<circle cx="53.23" cy="421.30" r="2.1" fill="#bc0c30"/>
<circle cx="59.70" cy="414.78" r="2.1" fill="#bc0c30"/>
<circle cx="66.13" cy="433.40" r="2.1" fill="#bc0c30"/>
<text x="88.01" y="366.4" font-size="6.2" text-anchor="middle" style="stroke-width:0.15px">CRISP3</text>
<line x1="88.50" y1="374" x2="88.50" y2="448.30" stroke="#111" stroke-width="0.95" stroke-dasharray="2.6 2.3"/>
<line x1="74.25" y1="448.5" x2="101.75" y2="448.5" stroke="#111" stroke-width="1.1"/>
<line x1="78.50" y1="448.30" x2="78.50" y2="451.30" stroke="#111" stroke-width="1"/>
<text transform="translate(80.95,454.6) rotate(-90)" font-size="6.3" text-anchor="end">HC</text>
<line x1="84.50" y1="448.30" x2="84.50" y2="451.30" stroke="#111" stroke-width="1"/>
<text transform="translate(87.38,454.6) rotate(-90)" font-size="6.3" text-anchor="end">GPS</text>
<line x1="91.50" y1="448.30" x2="91.50" y2="451.30" stroke="#111" stroke-width="1"/>
<text transform="translate(93.85,454.6) rotate(-90)" font-size="6.3" text-anchor="end">PMN</text>
<line x1="97.50" y1="448.30" x2="97.50" y2="451.30" stroke="#111" stroke-width="1"/>
<text transform="translate(100.28,454.6) rotate(-90)" font-size="6.3" text-anchor="end">CD16+</text>
<line x1="78.35" y1="412.91" x2="84.78" y2="417.10" stroke="#1d4592" stroke-width="0.8"/>
<line x1="91.25" y1="406.86" x2="97.68" y2="435.26" stroke="#1d4592" stroke-width="0.8"/>
<circle cx="78.35" cy="408.26" r="1.6" fill="#1d4592"/>
<circle cx="78.35" cy="410.59" r="1.6" fill="#1d4592"/>
<circle cx="78.35" cy="412.91" r="1.6" fill="#1d4592"/>
<circle cx="78.35" cy="414.78" r="1.6" fill="#1d4592"/>
<circle cx="84.78" cy="414.31" r="1.6" fill="#1d4592"/>
<circle cx="84.78" cy="417.57" r="1.6" fill="#1d4592"/>
<circle cx="84.78" cy="419.90" r="1.6" fill="#1d4592"/>
<circle cx="97.68" cy="432.94" r="1.6" fill="#1d4592"/>
<circle cx="97.68" cy="436.19" r="1.6" fill="#1d4592"/>
<circle cx="78.35" cy="412.91" r="2.1" fill="#bc0c30"/>
<circle cx="84.78" cy="417.10" r="2.1" fill="#bc0c30"/>
<circle cx="91.25" cy="406.86" r="2.1" fill="#bc0c30"/>
<circle cx="97.68" cy="435.26" r="2.1" fill="#bc0c30"/>
<text x="119.56" y="366.4" font-size="6.2" text-anchor="middle" style="stroke-width:0.15px">CRISPLD2</text>
<line x1="119.50" y1="374" x2="119.50" y2="448.30" stroke="#111" stroke-width="0.95" stroke-dasharray="2.6 2.3"/>
<line x1="105.80" y1="448.5" x2="133.30" y2="448.5" stroke="#111" stroke-width="1.1"/>
<line x1="109.50" y1="448.30" x2="109.50" y2="451.30" stroke="#111" stroke-width="1"/>
<text transform="translate(112.50,454.6) rotate(-90)" font-size="6.3" text-anchor="end">HC</text>
<line x1="116.50" y1="448.30" x2="116.50" y2="451.30" stroke="#111" stroke-width="1"/>
<text transform="translate(118.93,454.6) rotate(-90)" font-size="6.3" text-anchor="end">GPS</text>
<line x1="122.50" y1="448.30" x2="122.50" y2="451.30" stroke="#111" stroke-width="1"/>
<text transform="translate(125.40,454.6) rotate(-90)" font-size="6.3" text-anchor="end">PMN</text>
<line x1="129.50" y1="448.30" x2="129.50" y2="451.30" stroke="#111" stroke-width="1"/>
<text transform="translate(131.83,454.6) rotate(-90)" font-size="6.3" text-anchor="end">CD16+</text>
<line x1="109.90" y1="427.35" x2="116.33" y2="440.85" stroke="#1d4592" stroke-width="0.8"/>
<line x1="122.80" y1="423.16" x2="129.23" y2="434.33" stroke="#1d4592" stroke-width="0.8"/>
<circle cx="109.90" cy="419.43" r="1.6" fill="#1d4592"/>
<circle cx="109.90" cy="421.30" r="1.6" fill="#1d4592"/>
<circle cx="109.90" cy="423.16" r="1.6" fill="#1d4592"/>
<circle cx="109.90" cy="425.95" r="1.6" fill="#1d4592"/>
<circle cx="109.90" cy="430.14" r="1.6" fill="#1d4592"/>
<circle cx="109.90" cy="434.80" r="1.6" fill="#1d4592"/>
<circle cx="109.90" cy="436.66" r="1.6" fill="#1d4592"/>
<circle cx="116.33" cy="431.54" r="1.6" fill="#1d4592"/>
<circle cx="116.33" cy="436.19" r="1.6" fill="#1d4592"/>
<circle cx="116.33" cy="442.71" r="1.6" fill="#1d4592"/>
<circle cx="116.33" cy="446.90" r="1.6" fill="#1d4592"/>
<circle cx="129.23" cy="438.52" r="1.6" fill="#1d4592"/>
<circle cx="109.90" cy="427.35" r="2.1" fill="#bc0c30"/>
<circle cx="116.33" cy="440.85" r="2.1" fill="#bc0c30"/>
<circle cx="122.80" cy="423.16" r="2.1" fill="#bc0c30"/>
<circle cx="129.23" cy="434.33" r="2.1" fill="#bc0c30"/>
<text x="151.11" y="366.4" font-size="6.2" text-anchor="middle" style="stroke-width:0.15px">FGL2</text>
<line x1="151.50" y1="374" x2="151.50" y2="448.30" stroke="#111" stroke-width="0.95" stroke-dasharray="2.6 2.3"/>
<line x1="137.35" y1="448.5" x2="164.85" y2="448.5" stroke="#111" stroke-width="1.1"/>
<line x1="141.50" y1="448.30" x2="141.50" y2="451.30" stroke="#111" stroke-width="1"/>
<text transform="translate(144.05,454.6) rotate(-90)" font-size="6.3" text-anchor="end">HC</text>
<line x1="147.50" y1="448.30" x2="147.50" y2="451.30" stroke="#111" stroke-width="1"/>
<text transform="translate(150.48,454.6) rotate(-90)" font-size="6.3" text-anchor="end">GPS</text>
<line x1="154.50" y1="448.30" x2="154.50" y2="451.30" stroke="#111" stroke-width="1"/>
<text transform="translate(156.95,454.6) rotate(-90)" font-size="6.3" text-anchor="end">PMN</text>
<line x1="160.50" y1="448.30" x2="160.50" y2="451.30" stroke="#111" stroke-width="1"/>
<text transform="translate(163.38,454.6) rotate(-90)" font-size="6.3" text-anchor="end">CD16+</text>
<line x1="141.45" y1="428.28" x2="147.88" y2="441.32" stroke="#1d4592" stroke-width="0.8"/>
<line x1="154.35" y1="415.24" x2="160.78" y2="435.26" stroke="#1d4592" stroke-width="0.8"/>
<circle cx="141.45" cy="421.76" r="1.6" fill="#1d4592"/>
<circle cx="141.45" cy="424.09" r="1.6" fill="#1d4592"/>
<circle cx="141.45" cy="427.35" r="1.6" fill="#1d4592"/>
<circle cx="141.45" cy="430.61" r="1.6" fill="#1d4592"/>
<circle cx="141.45" cy="434.80" r="1.6" fill="#1d4592"/>
<circle cx="147.88" cy="435.26" r="1.6" fill="#1d4592"/>
<circle cx="147.88" cy="438.99" r="1.6" fill="#1d4592"/>
<circle cx="147.88" cy="444.11" r="1.6" fill="#1d4592"/>
<circle cx="147.88" cy="445.97" r="1.6" fill="#1d4592"/>
<circle cx="160.78" cy="437.13" r="1.6" fill="#1d4592"/>
<circle cx="141.45" cy="428.28" r="2.1" fill="#bc0c30"/>
<circle cx="147.88" cy="441.32" r="2.1" fill="#bc0c30"/>
<circle cx="154.35" cy="415.24" r="2.1" fill="#bc0c30"/>
<circle cx="160.78" cy="435.26" r="2.1" fill="#bc0c30"/>
<text x="182.66" y="366.4" font-size="6.2" text-anchor="middle" style="stroke-width:0.15px">LCN2</text>
<line x1="182.50" y1="374" x2="182.50" y2="448.30" stroke="#111" stroke-width="0.95" stroke-dasharray="2.6 2.3"/>
<line x1="168.90" y1="448.5" x2="196.40" y2="448.5" stroke="#111" stroke-width="1.1"/>
<line x1="173.50" y1="448.30" x2="173.50" y2="451.30" stroke="#111" stroke-width="1"/>
<text transform="translate(175.60,454.6) rotate(-90)" font-size="6.3" text-anchor="end">HC</text>
<line x1="179.50" y1="448.30" x2="179.50" y2="451.30" stroke="#111" stroke-width="1"/>
<text transform="translate(182.03,454.6) rotate(-90)" font-size="6.3" text-anchor="end">GPS</text>
<line x1="185.50" y1="448.30" x2="185.50" y2="451.30" stroke="#111" stroke-width="1"/>
<text transform="translate(188.50,454.6) rotate(-90)" font-size="6.3" text-anchor="end">PMN</text>
<line x1="192.50" y1="448.30" x2="192.50" y2="451.30" stroke="#111" stroke-width="1"/>
<text transform="translate(194.93,454.6) rotate(-90)" font-size="6.3" text-anchor="end">CD16+</text>
<line x1="173.00" y1="386.84" x2="179.43" y2="393.36" stroke="#1d4592" stroke-width="0.8"/>
<line x1="185.90" y1="384.51" x2="192.33" y2="391.96" stroke="#1d4592" stroke-width="0.8"/>
<circle cx="173.00" cy="384.51" r="1.6" fill="#1d4592"/>
<circle cx="173.00" cy="386.38" r="1.6" fill="#1d4592"/>
<circle cx="173.00" cy="388.70" r="1.6" fill="#1d4592"/>
<circle cx="173.00" cy="389.63" r="1.6" fill="#1d4592"/>
<circle cx="179.43" cy="390.10" r="1.6" fill="#1d4592"/>
<circle cx="179.43" cy="392.43" r="1.6" fill="#1d4592"/>
<circle cx="179.43" cy="394.29" r="1.6" fill="#1d4592"/>
<circle cx="185.90" cy="387.77" r="1.6" fill="#1d4592"/>
<circle cx="192.33" cy="433.40" r="1.6" fill="#1d4592"/>
<circle cx="173.00" cy="386.84" r="2.1" fill="#bc0c30"/>
<circle cx="179.43" cy="393.36" r="2.1" fill="#bc0c30"/>
<circle cx="185.90" cy="384.51" r="2.1" fill="#bc0c30"/>
<circle cx="192.33" cy="391.96" r="2.1" fill="#bc0c30"/>
<text x="214.21" y="366.4" font-size="6.2" text-anchor="middle" style="stroke-width:0.15px">LILRA3</text>
<line x1="214.50" y1="374" x2="214.50" y2="448.30" stroke="#111" stroke-width="0.95" stroke-dasharray="2.6 2.3"/>
<line x1="200.45" y1="448.5" x2="227.95" y2="448.5" stroke="#111" stroke-width="1.1"/>
<line x1="204.50" y1="448.30" x2="204.50" y2="451.30" stroke="#111" stroke-width="1"/>
<text transform="translate(207.15,454.6) rotate(-90)" font-size="6.3" text-anchor="end">HC</text>
<line x1="210.50" y1="448.30" x2="210.50" y2="451.30" stroke="#111" stroke-width="1"/>
<text transform="translate(213.58,454.6) rotate(-90)" font-size="6.3" text-anchor="end">GPS</text>
<line x1="217.50" y1="448.30" x2="217.50" y2="451.30" stroke="#111" stroke-width="1"/>
<text transform="translate(220.05,454.6) rotate(-90)" font-size="6.3" text-anchor="end">PMN</text>
<line x1="223.50" y1="448.30" x2="223.50" y2="451.30" stroke="#111" stroke-width="1"/>
<text transform="translate(226.48,454.6) rotate(-90)" font-size="6.3" text-anchor="end">CD16+</text>
<line x1="204.55" y1="425.02" x2="210.98" y2="431.54" stroke="#1d4592" stroke-width="0.8"/>
<line x1="217.45" y1="407.33" x2="223.88" y2="426.42" stroke="#1d4592" stroke-width="0.8"/>
<circle cx="204.55" cy="421.30" r="1.6" fill="#1d4592"/>
<circle cx="204.55" cy="424.09" r="1.6" fill="#1d4592"/>
<circle cx="204.55" cy="427.81" r="1.6" fill="#1d4592"/>
<circle cx="204.55" cy="430.14" r="1.6" fill="#1d4592"/>
<circle cx="204.55" cy="445.04" r="1.6" fill="#1d4592"/>
<circle cx="210.98" cy="427.81" r="1.6" fill="#1d4592"/>
<circle cx="210.98" cy="430.61" r="1.6" fill="#1d4592"/>
<circle cx="210.98" cy="434.33" r="1.6" fill="#1d4592"/>
<circle cx="210.98" cy="436.19" r="1.6" fill="#1d4592"/>
<circle cx="217.45" cy="409.66" r="1.6" fill="#1d4592"/>
<circle cx="223.88" cy="407.33" r="1.6" fill="#1d4592"/>
<circle cx="223.88" cy="415.71" r="1.6" fill="#1d4592"/>
<circle cx="223.88" cy="435.73" r="1.6" fill="#1d4592"/>
<circle cx="204.55" cy="425.02" r="2.1" fill="#bc0c30"/>
<circle cx="210.98" cy="431.54" r="2.1" fill="#bc0c30"/>
<circle cx="217.45" cy="407.33" r="2.1" fill="#bc0c30"/>
<circle cx="223.88" cy="426.42" r="2.1" fill="#bc0c30"/>
<text x="245.76" y="366.4" font-size="6.2" text-anchor="middle" style="stroke-width:0.15px">MGAM</text>
<line x1="245.50" y1="374" x2="245.50" y2="448.30" stroke="#111" stroke-width="0.95" stroke-dasharray="2.6 2.3"/>
<line x1="232.00" y1="448.5" x2="259.50" y2="448.5" stroke="#111" stroke-width="1.1"/>
<line x1="236.50" y1="448.30" x2="236.50" y2="451.30" stroke="#111" stroke-width="1"/>
<text transform="translate(238.70,454.6) rotate(-90)" font-size="6.3" text-anchor="end">HC</text>
<line x1="242.50" y1="448.30" x2="242.50" y2="451.30" stroke="#111" stroke-width="1"/>
<text transform="translate(245.13,454.6) rotate(-90)" font-size="6.3" text-anchor="end">GPS</text>
<line x1="249.50" y1="448.30" x2="249.50" y2="451.30" stroke="#111" stroke-width="1"/>
<text transform="translate(251.60,454.6) rotate(-90)" font-size="6.3" text-anchor="end">PMN</text>
<line x1="255.50" y1="448.30" x2="255.50" y2="451.30" stroke="#111" stroke-width="1"/>
<text transform="translate(258.03,454.6) rotate(-90)" font-size="6.3" text-anchor="end">CD16+</text>
<line x1="236.10" y1="405.00" x2="242.53" y2="411.52" stroke="#1d4592" stroke-width="0.8"/>
<line x1="249.00" y1="401.74" x2="255.43" y2="410.12" stroke="#1d4592" stroke-width="0.8"/>
<circle cx="236.10" cy="401.74" r="1.6" fill="#1d4592"/>
<circle cx="236.10" cy="404.07" r="1.6" fill="#1d4592"/>
<circle cx="236.10" cy="406.40" r="1.6" fill="#1d4592"/>
<circle cx="236.10" cy="408.72" r="1.6" fill="#1d4592"/>
<circle cx="242.53" cy="407.33" r="1.6" fill="#1d4592"/>
<circle cx="242.53" cy="409.19" r="1.6" fill="#1d4592"/>
<circle cx="242.53" cy="412.45" r="1.6" fill="#1d4592"/>
<circle cx="249.00" cy="404.07" r="1.6" fill="#1d4592"/>
<circle cx="255.43" cy="406.40" r="1.6" fill="#1d4592"/>
<circle cx="255.43" cy="434.10" r="1.6" fill="#1d4592"/>
<circle cx="236.10" cy="405.00" r="2.1" fill="#bc0c30"/>
<circle cx="242.53" cy="411.52" r="2.1" fill="#bc0c30"/>
<circle cx="249.00" cy="401.74" r="2.1" fill="#bc0c30"/>
<circle cx="255.43" cy="410.12" r="2.1" fill="#bc0c30"/>
<text x="277.31" y="366.4" font-size="6.2" text-anchor="middle" style="stroke-width:0.15px">MMP9</text>
<line x1="277.50" y1="374" x2="277.50" y2="448.30" stroke="#111" stroke-width="0.95" stroke-dasharray="2.6 2.3"/>
<line x1="263.55" y1="448.5" x2="291.05" y2="448.5" stroke="#111" stroke-width="1.1"/>
<line x1="267.50" y1="448.30" x2="267.50" y2="451.30" stroke="#111" stroke-width="1"/>
<text transform="translate(270.25,454.6) rotate(-90)" font-size="6.3" text-anchor="end">HC</text>
<line x1="274.50" y1="448.30" x2="274.50" y2="451.30" stroke="#111" stroke-width="1"/>
<text transform="translate(276.68,454.6) rotate(-90)" font-size="6.3" text-anchor="end">GPS</text>
<line x1="280.50" y1="448.30" x2="280.50" y2="451.30" stroke="#111" stroke-width="1"/>
<text transform="translate(283.15,454.6) rotate(-90)" font-size="6.3" text-anchor="end">PMN</text>
<line x1="286.50" y1="448.30" x2="286.50" y2="451.30" stroke="#111" stroke-width="1"/>
<text transform="translate(289.58,454.6) rotate(-90)" font-size="6.3" text-anchor="end">CD16+</text>
<line x1="267.65" y1="390.10" x2="274.08" y2="404.30" stroke="#1d4592" stroke-width="0.8"/>
<line x1="280.55" y1="380.32" x2="286.98" y2="396.62" stroke="#1d4592" stroke-width="0.8"/>
<circle cx="267.65" cy="388.70" r="1.6" fill="#1d4592"/>
<circle cx="267.65" cy="390.57" r="1.6" fill="#1d4592"/>
<circle cx="267.65" cy="392.89" r="1.6" fill="#1d4592"/>
<circle cx="274.08" cy="395.69" r="1.6" fill="#1d4592"/>
<circle cx="274.08" cy="398.95" r="1.6" fill="#1d4592"/>
<circle cx="274.08" cy="402.21" r="1.6" fill="#1d4592"/>
<circle cx="274.08" cy="405.00" r="1.6" fill="#1d4592"/>
<circle cx="286.98" cy="393.82" r="1.6" fill="#1d4592"/>
<circle cx="286.98" cy="430.61" r="1.6" fill="#1d4592"/>
<circle cx="267.65" cy="390.10" r="2.1" fill="#bc0c30"/>
<circle cx="274.08" cy="404.30" r="2.1" fill="#bc0c30"/>
<circle cx="280.55" cy="380.32" r="2.1" fill="#bc0c30"/>
<circle cx="286.98" cy="396.62" r="2.1" fill="#bc0c30"/>
<text x="308.86" y="366.4" font-size="6.2" text-anchor="middle" style="stroke-width:0.15px">OLR1</text>
<line x1="308.50" y1="374" x2="308.50" y2="448.30" stroke="#111" stroke-width="0.95" stroke-dasharray="2.6 2.3"/>
<line x1="295.10" y1="448.5" x2="322.60" y2="448.5" stroke="#111" stroke-width="1.1"/>
<line x1="299.50" y1="448.30" x2="299.50" y2="451.30" stroke="#111" stroke-width="1"/>
<text transform="translate(301.80,454.6) rotate(-90)" font-size="6.3" text-anchor="end">HC</text>
<line x1="305.50" y1="448.30" x2="305.50" y2="451.30" stroke="#111" stroke-width="1"/>
<text transform="translate(308.23,454.6) rotate(-90)" font-size="6.3" text-anchor="end">GPS</text>
<line x1="312.50" y1="448.30" x2="312.50" y2="451.30" stroke="#111" stroke-width="1"/>
<text transform="translate(314.70,454.6) rotate(-90)" font-size="6.3" text-anchor="end">PMN</text>
<line x1="318.50" y1="448.30" x2="318.50" y2="451.30" stroke="#111" stroke-width="1"/>
<text transform="translate(321.13,454.6) rotate(-90)" font-size="6.3" text-anchor="end">CD16+</text>
<line x1="299.20" y1="420.60" x2="305.63" y2="426.42" stroke="#1d4592" stroke-width="0.8"/>
<line x1="312.10" y1="419.90" x2="318.53" y2="432.94" stroke="#1d4592" stroke-width="0.8"/>
<circle cx="299.20" cy="417.10" r="1.6" fill="#1d4592"/>
<circle cx="299.20" cy="419.43" r="1.6" fill="#1d4592"/>
<circle cx="299.20" cy="422.23" r="1.6" fill="#1d4592"/>
<circle cx="305.63" cy="421.30" r="1.6" fill="#1d4592"/>
<circle cx="305.63" cy="424.55" r="1.6" fill="#1d4592"/>
<circle cx="305.63" cy="428.28" r="1.6" fill="#1d4592"/>
<circle cx="305.63" cy="430.61" r="1.6" fill="#1d4592"/>
<circle cx="318.53" cy="431.07" r="1.6" fill="#1d4592"/>
<circle cx="318.53" cy="437.59" r="1.6" fill="#1d4592"/>
<circle cx="299.20" cy="420.60" r="2.1" fill="#bc0c30"/>
<circle cx="305.63" cy="426.42" r="2.1" fill="#bc0c30"/>
<circle cx="312.10" cy="419.90" r="2.1" fill="#bc0c30"/>
<circle cx="318.53" cy="432.94" r="2.1" fill="#bc0c30"/>
<text x="340.41" y="366.4" font-size="6.2" text-anchor="middle" style="stroke-width:0.15px">PGLYRP1</text>
<line x1="340.50" y1="374" x2="340.50" y2="448.30" stroke="#111" stroke-width="0.95" stroke-dasharray="2.6 2.3"/>
<line x1="326.65" y1="448.5" x2="354.15" y2="448.5" stroke="#111" stroke-width="1.1"/>
<line x1="330.50" y1="448.30" x2="330.50" y2="451.30" stroke="#111" stroke-width="1"/>
<text transform="translate(333.35,454.6) rotate(-90)" font-size="6.3" text-anchor="end">HC</text>
<line x1="337.50" y1="448.30" x2="337.50" y2="451.30" stroke="#111" stroke-width="1"/>
<text transform="translate(339.78,454.6) rotate(-90)" font-size="6.3" text-anchor="end">GPS</text>
<line x1="343.50" y1="448.30" x2="343.50" y2="451.30" stroke="#111" stroke-width="1"/>
<text transform="translate(346.25,454.6) rotate(-90)" font-size="6.3" text-anchor="end">PMN</text>
<line x1="350.50" y1="448.30" x2="350.50" y2="451.30" stroke="#111" stroke-width="1"/>
<text transform="translate(352.68,454.6) rotate(-90)" font-size="6.3" text-anchor="end">CD16+</text>
<line x1="330.75" y1="401.27" x2="337.18" y2="410.12" stroke="#1d4592" stroke-width="0.8"/>
<line x1="343.65" y1="395.22" x2="350.08" y2="410.82" stroke="#1d4592" stroke-width="0.8"/>
<circle cx="330.75" cy="399.41" r="1.6" fill="#1d4592"/>
<circle cx="330.75" cy="400.81" r="1.6" fill="#1d4592"/>
<circle cx="330.75" cy="402.67" r="1.6" fill="#1d4592"/>
<circle cx="337.18" cy="406.40" r="1.6" fill="#1d4592"/>
<circle cx="337.18" cy="408.72" r="1.6" fill="#1d4592"/>
<circle cx="337.18" cy="411.52" r="1.6" fill="#1d4592"/>
<circle cx="350.08" cy="435.96" r="1.6" fill="#1d4592"/>
<circle cx="330.75" cy="401.27" r="2.1" fill="#bc0c30"/>
<circle cx="337.18" cy="410.12" r="2.1" fill="#bc0c30"/>
<circle cx="343.65" cy="395.22" r="2.1" fill="#bc0c30"/>
<circle cx="350.08" cy="410.82" r="2.1" fill="#bc0c30"/>
<text x="371.96" y="366.4" font-size="6.2" text-anchor="middle" style="stroke-width:0.15px">PPBP</text>
<line x1="371.50" y1="374" x2="371.50" y2="448.30" stroke="#111" stroke-width="0.95" stroke-dasharray="2.6 2.3"/>
<line x1="358.20" y1="448.5" x2="385.70" y2="448.5" stroke="#111" stroke-width="1.1"/>
<line x1="362.50" y1="448.30" x2="362.50" y2="451.30" stroke="#111" stroke-width="1"/>
<text transform="translate(364.90,454.6) rotate(-90)" font-size="6.3" text-anchor="end">HC</text>
<line x1="368.50" y1="448.30" x2="368.50" y2="451.30" stroke="#111" stroke-width="1"/>
<text transform="translate(371.33,454.6) rotate(-90)" font-size="6.3" text-anchor="end">GPS</text>
<line x1="375.50" y1="448.30" x2="375.50" y2="451.30" stroke="#111" stroke-width="1"/>
<text transform="translate(377.80,454.6) rotate(-90)" font-size="6.3" text-anchor="end">PMN</text>
<line x1="381.50" y1="448.30" x2="381.50" y2="451.30" stroke="#111" stroke-width="1"/>
<text transform="translate(384.23,454.6) rotate(-90)" font-size="6.3" text-anchor="end">CD16+</text>
<line x1="362.30" y1="432.47" x2="368.73" y2="440.15" stroke="#1d4592" stroke-width="0.8"/>
<line x1="375.20" y1="405.46" x2="381.63" y2="432.94" stroke="#1d4592" stroke-width="0.8"/>
<circle cx="362.30" cy="420.36" r="1.6" fill="#1d4592"/>
<circle cx="362.30" cy="423.62" r="1.6" fill="#1d4592"/>
<circle cx="362.30" cy="426.88" r="1.6" fill="#1d4592"/>
<circle cx="362.30" cy="429.68" r="1.6" fill="#1d4592"/>
<circle cx="362.30" cy="431.54" r="1.6" fill="#1d4592"/>
<circle cx="362.30" cy="434.33" r="1.6" fill="#1d4592"/>
<circle cx="362.30" cy="437.13" r="1.6" fill="#1d4592"/>
<circle cx="362.30" cy="440.85" r="1.6" fill="#1d4592"/>
<circle cx="362.30" cy="445.51" r="1.6" fill="#1d4592"/>
<circle cx="368.73" cy="432.00" r="1.6" fill="#1d4592"/>
<circle cx="368.73" cy="435.26" r="1.6" fill="#1d4592"/>
<circle cx="368.73" cy="438.06" r="1.6" fill="#1d4592"/>
<circle cx="368.73" cy="441.32" r="1.6" fill="#1d4592"/>
<circle cx="368.73" cy="443.64" r="1.6" fill="#1d4592"/>
<circle cx="368.73" cy="446.44" r="1.6" fill="#1d4592"/>
<circle cx="375.20" cy="403.14" r="1.6" fill="#1d4592"/>
<circle cx="375.20" cy="415.71" r="1.6" fill="#1d4592"/>
<circle cx="362.30" cy="432.47" r="2.1" fill="#bc0c30"/>
<circle cx="368.73" cy="440.15" r="2.1" fill="#bc0c30"/>
<circle cx="375.20" cy="405.46" r="2.1" fill="#bc0c30"/>
<circle cx="381.63" cy="432.94" r="2.1" fill="#bc0c30"/>
<text x="403.51" y="366.4" font-size="6.2" text-anchor="middle" style="stroke-width:0.15px">PTPRJ</text>
<line x1="403.50" y1="374" x2="403.50" y2="448.30" stroke="#111" stroke-width="0.95" stroke-dasharray="2.6 2.3"/>
<line x1="389.75" y1="448.5" x2="417.25" y2="448.5" stroke="#111" stroke-width="1.1"/>
<line x1="393.50" y1="448.30" x2="393.50" y2="451.30" stroke="#111" stroke-width="1"/>
<text transform="translate(396.45,454.6) rotate(-90)" font-size="6.3" text-anchor="end">HC</text>
<line x1="400.50" y1="448.30" x2="400.50" y2="451.30" stroke="#111" stroke-width="1"/>
<text transform="translate(402.88,454.6) rotate(-90)" font-size="6.3" text-anchor="end">GPS</text>
<line x1="406.50" y1="448.30" x2="406.50" y2="451.30" stroke="#111" stroke-width="1"/>
<text transform="translate(409.35,454.6) rotate(-90)" font-size="6.3" text-anchor="end">PMN</text>
<line x1="413.50" y1="448.30" x2="413.50" y2="451.30" stroke="#111" stroke-width="1"/>
<text transform="translate(415.78,454.6) rotate(-90)" font-size="6.3" text-anchor="end">CD16+</text>
<line x1="393.85" y1="410.82" x2="400.28" y2="415.48" stroke="#1d4592" stroke-width="0.8"/>
<line x1="406.75" y1="403.84" x2="413.18" y2="410.35" stroke="#1d4592" stroke-width="0.8"/>
<circle cx="393.85" cy="408.26" r="1.6" fill="#1d4592"/>
<circle cx="393.85" cy="410.12" r="1.6" fill="#1d4592"/>
<circle cx="393.85" cy="411.98" r="1.6" fill="#1d4592"/>
<circle cx="400.28" cy="412.91" r="1.6" fill="#1d4592"/>
<circle cx="400.28" cy="414.78" r="1.6" fill="#1d4592"/>
<circle cx="400.28" cy="416.64" r="1.6" fill="#1d4592"/>
<circle cx="413.18" cy="406.86" r="1.6" fill="#1d4592"/>
<circle cx="413.18" cy="424.55" r="1.6" fill="#1d4592"/>
<circle cx="393.85" cy="410.82" r="2.1" fill="#bc0c30"/>
<circle cx="400.28" cy="415.48" r="2.1" fill="#bc0c30"/>
<circle cx="406.75" cy="403.84" r="2.1" fill="#bc0c30"/>
<circle cx="413.18" cy="410.35" r="2.1" fill="#bc0c30"/>
<text x="435.06" y="366.4" font-size="6.2" text-anchor="middle" style="stroke-width:0.15px">PTX3</text>
<line x1="435.50" y1="374" x2="435.50" y2="448.30" stroke="#111" stroke-width="0.95" stroke-dasharray="2.6 2.3"/>
<line x1="421.30" y1="448.5" x2="448.80" y2="448.5" stroke="#111" stroke-width="1.1"/>
<line x1="425.50" y1="448.30" x2="425.50" y2="451.30" stroke="#111" stroke-width="1"/>
<text transform="translate(428.00,454.6) rotate(-90)" font-size="6.3" text-anchor="end">HC</text>
<line x1="431.50" y1="448.30" x2="431.50" y2="451.30" stroke="#111" stroke-width="1"/>
<text transform="translate(434.43,454.6) rotate(-90)" font-size="6.3" text-anchor="end">GPS</text>
<line x1="438.50" y1="448.30" x2="438.50" y2="451.30" stroke="#111" stroke-width="1"/>
<text transform="translate(440.90,454.6) rotate(-90)" font-size="6.3" text-anchor="end">PMN</text>
<line x1="444.50" y1="448.30" x2="444.50" y2="451.30" stroke="#111" stroke-width="1"/>
<text transform="translate(447.33,454.6) rotate(-90)" font-size="6.3" text-anchor="end">CD16+</text>
<line x1="425.40" y1="415.48" x2="431.83" y2="420.60" stroke="#1d4592" stroke-width="0.8"/>
<line x1="438.30" y1="406.40" x2="444.73" y2="416.64" stroke="#1d4592" stroke-width="0.8"/>
<circle cx="425.40" cy="410.12" r="1.6" fill="#1d4592"/>
<circle cx="425.40" cy="413.38" r="1.6" fill="#1d4592"/>
<circle cx="425.40" cy="416.64" r="1.6" fill="#1d4592"/>
<circle cx="425.40" cy="419.43" r="1.6" fill="#1d4592"/>
<circle cx="431.83" cy="418.50" r="1.6" fill="#1d4592"/>
<circle cx="431.83" cy="420.36" r="1.6" fill="#1d4592"/>
<circle cx="431.83" cy="422.23" r="1.6" fill="#1d4592"/>
<circle cx="438.30" cy="404.53" r="1.6" fill="#1d4592"/>
<circle cx="444.73" cy="435.96" r="1.6" fill="#1d4592"/>
<circle cx="425.40" cy="415.48" r="2.1" fill="#bc0c30"/>
<circle cx="431.83" cy="420.60" r="2.1" fill="#bc0c30"/>
<circle cx="438.30" cy="406.40" r="2.1" fill="#bc0c30"/>
<circle cx="444.73" cy="416.64" r="2.1" fill="#bc0c30"/>
<text x="466.61" y="366.4" font-size="6.2" text-anchor="middle" style="stroke-width:0.15px">QSOX1</text>
<line x1="466.50" y1="374" x2="466.50" y2="448.30" stroke="#111" stroke-width="0.95" stroke-dasharray="2.6 2.3"/>
<line x1="452.85" y1="448.5" x2="480.35" y2="448.5" stroke="#111" stroke-width="1.1"/>
<line x1="456.50" y1="448.30" x2="456.50" y2="451.30" stroke="#111" stroke-width="1"/>
<text transform="translate(459.55,454.6) rotate(-90)" font-size="6.3" text-anchor="end">HC</text>
<line x1="463.50" y1="448.30" x2="463.50" y2="451.30" stroke="#111" stroke-width="1"/>
<text transform="translate(465.98,454.6) rotate(-90)" font-size="6.3" text-anchor="end">GPS</text>
<line x1="469.50" y1="448.30" x2="469.50" y2="451.30" stroke="#111" stroke-width="1"/>
<text transform="translate(472.45,454.6) rotate(-90)" font-size="6.3" text-anchor="end">PMN</text>
<line x1="476.50" y1="448.30" x2="476.50" y2="451.30" stroke="#111" stroke-width="1"/>
<text transform="translate(478.88,454.6) rotate(-90)" font-size="6.3" text-anchor="end">CD16+</text>
<line x1="456.95" y1="418.50" x2="463.38" y2="424.55" stroke="#1d4592" stroke-width="0.8"/>
<line x1="469.85" y1="408.26" x2="476.28" y2="411.98" stroke="#1d4592" stroke-width="0.8"/>
<circle cx="456.95" cy="416.64" r="1.6" fill="#1d4592"/>
<circle cx="456.95" cy="418.50" r="1.6" fill="#1d4592"/>
<circle cx="456.95" cy="420.36" r="1.6" fill="#1d4592"/>
<circle cx="463.38" cy="422.23" r="1.6" fill="#1d4592"/>
<circle cx="463.38" cy="424.55" r="1.6" fill="#1d4592"/>
<circle cx="463.38" cy="426.88" r="1.6" fill="#1d4592"/>
<circle cx="476.28" cy="414.78" r="1.6" fill="#1d4592"/>
<circle cx="456.95" cy="418.50" r="2.1" fill="#bc0c30"/>
<circle cx="463.38" cy="424.55" r="2.1" fill="#bc0c30"/>
<circle cx="469.85" cy="408.26" r="2.1" fill="#bc0c30"/>
<circle cx="476.28" cy="411.98" r="2.1" fill="#bc0c30"/>
</svg>
<svg class="bd" width="520" height="482" viewBox="0 0 520 482"><rect x="0" y="0" width="520" height="1" fill="#000"/><rect x="0" y="0" width="1.05" height="482" fill="#000"/><rect x="518.7" y="0" width="1.3" height="482" fill="#000"/><rect x="0" y="480.7" width="520" height="1.3" fill="#000"/></svg>
</body></html>
